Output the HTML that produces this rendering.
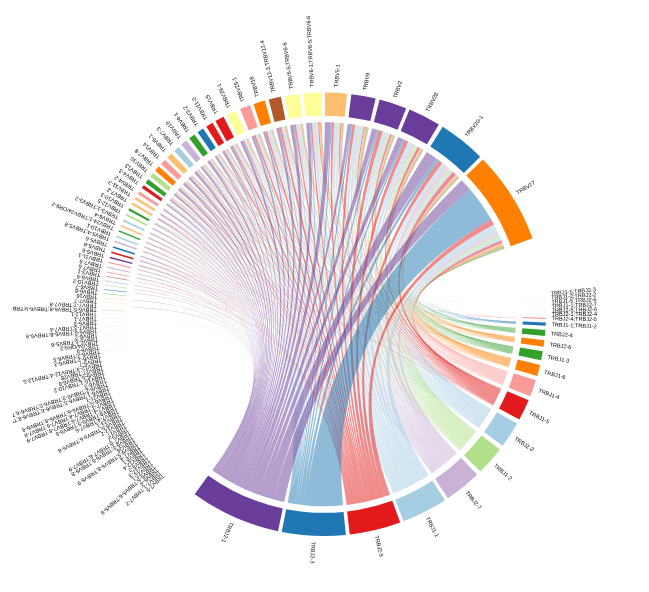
<!DOCTYPE html>
<html><head><meta charset="utf-8"><title>Chord diagram</title>
<style>html,body{margin:0;padding:0;background:#fff}svg{display:block}text{font-family:"Liberation Sans",sans-serif;font-size:5.55px;fill:#000}</style></head><body>
<svg width="649" height="592" viewBox="0 0 649 592">
<rect width="649" height="592" fill="#fff"/>
<defs><clipPath id="cp"><rect x="13" y="0" width="636" height="592"/></clipPath></defs>
<g id="grid">
<path d="M545.02 293.96L521.97 296.08" stroke="#A6CEE3" stroke-width="0.073" fill="none"/>
<path d="M545.35 298.01L522.27 299.7" stroke="#B2DF8A" stroke-width="0.073" fill="none"/>
<path d="M545.61 302.03L522.5 303.3" stroke="#FDBF6F" stroke-width="0.073" fill="none"/>
<path d="M545.8 306.09L522.67 306.94" stroke="#CAB2D6" stroke-width="0.073" fill="none"/>
<path d="M545.91 310.11L522.77 310.54" stroke="#FFFF99" stroke-width="0.073" fill="none"/>
<path d="M545.95 314.17L522.8 314.18" stroke="#A6CEE3" stroke-width="0.073" fill="none"/>
<path d="M545.92 318A221.75 221.75 0 0 1 545.91 318.39L522.77 317.96A198.6 198.6 0 0 0 522.77 317.61Z" fill="#E31A1C"/>
<path d="M545.8 322.45A221.75 221.75 0 0 1 545.66 325.66L522.54 324.47A198.6 198.6 0 0 0 522.66 321.6Z" fill="#1F78B4"/>
<path d="M545.4 329.91A221.75 221.75 0 0 1 544.89 335.89L521.85 333.63A198.6 198.6 0 0 0 522.3 328.28Z" fill="#33A02C"/>
<path d="M544.41 340.31A221.75 221.75 0 0 1 543.54 346.84L520.64 343.43A198.6 198.6 0 0 0 521.42 337.59Z" fill="#FF7F00"/>
<path d="M542.83 351.31A221.75 221.75 0 0 1 541.13 360.24L518.48 355.44A198.6 198.6 0 0 0 520.01 347.44Z" fill="#33A02C"/>
<path d="M540.09 364.89A221.75 221.75 0 0 1 537.2 375.93L514.96 369.49A198.6 198.6 0 0 0 517.55 359.6Z" fill="#FF7F00"/>
<path d="M535.92 380.19A221.75 221.75 0 0 1 530.24 396.24L508.73 387.68A198.6 198.6 0 0 0 513.82 373.31Z" fill="#FB9A99"/>
<path d="M528.62 400.18A221.75 221.75 0 0 1 519.35 419.55L498.98 408.56A198.6 198.6 0 0 0 507.28 391.21Z" fill="#E31A1C"/>
<path d="M517.11 423.61A221.75 221.75 0 0 1 502.69 445.84L484.05 432.1A198.6 198.6 0 0 0 496.97 412.2Z" fill="#A6CEE3"/>
<path d="M499.89 449.55A221.75 221.75 0 0 1 480.45 471.6L464.14 455.17A198.6 198.6 0 0 0 481.55 435.42Z" fill="#B2DF8A"/>
<path d="M477.26 474.7A221.75 221.75 0 0 1 448.01 498.22L435.08 479.01A198.6 198.6 0 0 0 461.28 457.95Z" fill="#CAB2D6"/>
<path d="M444.97 500.23A221.75 221.75 0 0 1 403.56 521.31L395.27 499.7A198.6 198.6 0 0 0 432.37 480.81Z" fill="#A6CEE3"/>
<path d="M400.19 522.57A221.75 221.75 0 0 1 349.76 534.52L347.1 511.53A198.6 198.6 0 0 0 392.26 500.83Z" fill="#E31A1C"/>
<path d="M345.84 534.94A221.75 221.75 0 0 1 281.7 531.89L286.14 509.17A198.6 198.6 0 0 0 343.58 511.9Z" fill="#1F78B4"/>
<path d="M277.98 531.13A221.75 221.75 0 0 1 194.64 494.22L208.17 475.43A198.6 198.6 0 0 0 282.81 508.49Z" fill="#6A3D9A"/>
<path d="M482.9 159.38A221.75 221.75 0 0 1 532.51 238.23L510.76 246.16A198.6 198.6 0 0 0 466.34 175.54Z" fill="#FF7F00"/>
<path d="M442.69 126.81A221.75 221.75 0 0 1 480.18 156.63L463.89 173.09A198.6 198.6 0 0 0 430.32 146.38Z" fill="#1F78B4"/>
<path d="M409.56 109.59A221.75 221.75 0 0 1 438.87 124.45L426.9 144.27A198.6 198.6 0 0 0 400.65 130.95Z" fill="#6A3D9A"/>
<path d="M379.61 99.53A221.75 221.75 0 0 1 406.19 108.21L397.63 129.72A198.6 198.6 0 0 0 373.82 121.95Z" fill="#6A3D9A"/>
<path d="M351.38 94.17A221.75 221.75 0 0 1 375.67 98.55L370.29 121.07A198.6 198.6 0 0 0 348.54 117.15Z" fill="#6A3D9A"/>
<path d="M324.97 92.5A221.75 221.75 0 0 1 347.11 93.69L344.72 116.71A198.6 198.6 0 0 0 324.89 115.65Z" fill="#FDBF6F"/>
<path d="M303.33 93.48A221.75 221.75 0 0 1 321.3 92.52L321.6 115.67A198.6 198.6 0 0 0 305.51 116.53Z" fill="#FFFF99"/>
<path d="M284.74 96.04A221.75 221.75 0 0 1 299.48 93.88L302.06 116.89A198.6 198.6 0 0 0 288.86 118.82Z" fill="#FFFF99"/>
<path d="M268.68 99.56A221.75 221.75 0 0 1 280.9 96.77L285.42 119.47A198.6 198.6 0 0 0 274.47 121.98Z" fill="#B15928"/>
<path d="M253.47 104.08A221.75 221.75 0 0 1 264.83 100.6L271.03 122.9A198.6 198.6 0 0 0 260.85 126.02Z" fill="#FF7F00"/>
<path d="M240.06 109.08A221.75 221.75 0 0 1 249.92 105.31L257.68 127.12A198.6 198.6 0 0 0 248.84 130.5Z" fill="#FB9A99"/>
<path d="M226.99 114.94A221.75 221.75 0 0 1 236.13 110.74L245.33 131.98A198.6 198.6 0 0 0 237.14 135.75Z" fill="#FFFF99"/>
<path d="M215.34 121.06A221.75 221.75 0 0 1 223.53 116.67L234.04 137.3A198.6 198.6 0 0 0 226.71 141.23Z" fill="#E31A1C"/>
<path d="M206.2 126.5A221.75 221.75 0 0 1 212.49 122.69L224.15 142.69A198.6 198.6 0 0 0 218.52 146.1Z" fill="#E31A1C"/>
<path d="M197.61 132.18A221.75 221.75 0 0 1 203.17 128.44L215.8 147.84A198.6 198.6 0 0 0 210.83 151.19Z" fill="#1F78B4"/>
<path d="M189.21 138.32A221.75 221.75 0 0 1 194.39 134.46L207.94 153.23A198.6 198.6 0 0 0 203.3 156.69Z" fill="#33A02C"/>
<path d="M181.31 144.68A221.75 221.75 0 0 1 186.28 140.61L200.68 158.74A198.6 198.6 0 0 0 196.22 162.38Z" fill="#CAB2D6"/>
<path d="M174.1 151.02A221.75 221.75 0 0 1 178.69 146.92L193.88 164.39A198.6 198.6 0 0 0 189.77 168.06Z" fill="#A6CEE3"/>
<path d="M167.26 157.59A221.75 221.75 0 0 1 171.53 153.42L187.47 170.21A198.6 198.6 0 0 0 183.65 173.94Z" fill="#FDBF6F"/>
<path d="M161 164.12A221.75 221.75 0 0 1 164.98 159.9L181.6 176.02A198.6 198.6 0 0 0 178.03 179.8Z" fill="#FB9A99"/>
<path d="M155.13 170.77A221.75 221.75 0 0 1 158.74 166.62L176.01 182.03A198.6 198.6 0 0 0 172.78 185.74Z" fill="#FF7F00"/>
<path d="M150.34 176.6A221.75 221.75 0 0 1 153.17 173.11L171.02 187.84A198.6 198.6 0 0 0 168.49 190.97Z" fill="#B2DF8A"/>
<path d="M145.55 182.88A221.75 221.75 0 0 1 148.23 179.32L166.6 193.4A198.6 198.6 0 0 0 164.2 196.59Z" fill="#33A02C"/>
<path d="M141.85 188.08A221.75 221.75 0 0 1 143.76 185.35L162.6 198.81A198.6 198.6 0 0 0 160.88 201.25Z" fill="#E31A1C"/>
<path d="M137.94 193.91A221.75 221.75 0 0 1 139.53 191.49L158.81 204.3A198.6 198.6 0 0 0 157.39 206.48Z" fill="#FB9A99"/>
<path d="M134.63 199.2A221.75 221.75 0 0 1 135.91 197.12L155.57 209.35A198.6 198.6 0 0 0 154.42 211.21Z" fill="#FDBF6F"/>
<path d="M131.46 204.6A221.75 221.75 0 0 1 132.6 202.62L152.6 214.28A198.6 198.6 0 0 0 151.58 216.05Z" fill="#FDBF6F"/>
<path d="M128.32 210.3A221.75 221.75 0 0 1 129.37 208.36L149.71 219.41A198.6 198.6 0 0 0 148.77 221.15Z" fill="#33A02C"/>
<path d="M125.63 215.55A221.75 221.75 0 0 1 126.5 213.82L147.14 224.3A198.6 198.6 0 0 0 146.36 225.85Z" fill="#B2DF8A"/>
<path d="M122.93 221.17A221.75 221.75 0 0 1 123.69 219.55L144.62 229.44A198.6 198.6 0 0 0 143.94 230.88Z" fill="#A6CEE3"/>
<path d="M120.6 226.4A221.75 221.75 0 0 1 121.25 224.91L142.43 234.23A198.6 198.6 0 0 0 141.85 235.57Z" fill="#FDBF6F"/>
<path d="M118.42 231.61A221.75 221.75 0 0 1 119.01 230.18L140.43 238.95A198.6 198.6 0 0 0 139.91 240.24Z" fill="#33A02C"/>
<path d="M116.28 237.17A221.75 221.75 0 0 1 116.82 235.72L138.47 243.92A198.6 198.6 0 0 0 137.98 245.22Z" fill="#A6CEE3"/>
<path d="M114.51 242.13A221.75 221.75 0 0 1 114.99 240.74L136.83 248.41A198.6 198.6 0 0 0 136.4 249.66Z" fill="#CAB2D6"/>
<path d="M112.67 247.72A221.75 221.75 0 0 1 113.14 246.24L135.17 253.34A198.6 198.6 0 0 0 134.75 254.66Z" fill="#1F78B4"/>
<path d="M111.07 253.02A221.75 221.75 0 0 1 111.5 251.53L133.71 258.08A198.6 198.6 0 0 0 133.32 259.41Z" fill="#E31A1C"/>
<path d="M109.66 258.17A221.75 221.75 0 0 1 110.04 256.74L132.39 262.75A198.6 198.6 0 0 0 132.06 264.02Z" fill="#6A3D9A"/>
<path d="M108.46 262.97A221.75 221.75 0 0 1 108.73 261.84L131.23 267.31A198.6 198.6 0 0 0 130.98 268.33Z" fill="#FB9A99"/>
<path d="M107.36 267.86A221.75 221.75 0 0 1 107.58 266.84L130.19 271.79A198.6 198.6 0 0 0 129.99 272.7Z" fill="#CAB2D6"/>
<path d="M106.46 272.28A221.75 221.75 0 0 1 106.61 271.52L129.32 275.98A198.6 198.6 0 0 0 129.19 276.66Z" fill="#FB9A99"/>
<path d="M105.68 276.53A221.75 221.75 0 0 1 105.78 275.95L128.58 279.95A198.6 198.6 0 0 0 128.5 280.46Z" fill="#B15928"/>
<path d="M104.91 281.28A221.75 221.75 0 0 1 105.02 280.59L127.9 284.11A198.6 198.6 0 0 0 127.81 284.72Z" fill="#A6CEE3"/>
<path d="M104.33 285.46A221.75 221.75 0 0 1 104.39 285L127.34 288.05A198.6 198.6 0 0 0 127.28 288.46Z" fill="#B2DF8A"/>
<path d="M103.82 289.66A221.75 221.75 0 0 1 103.86 289.27L126.86 291.87A198.6 198.6 0 0 0 126.83 292.23Z" fill="#1F78B4"/>
<path d="M103.39 293.84A221.75 221.75 0 0 1 103.42 293.51L126.47 295.68A198.6 198.6 0 0 0 126.44 295.97Z" fill="#33A02C"/>
<path d="M103.05 298.01A221.75 221.75 0 0 1 103.07 297.74L126.15 299.46A198.6 198.6 0 0 0 126.13 299.7Z" fill="#FDBF6F"/>
<path d="M102.79 302.05L125.9 303.33" stroke="#FDBF6F" stroke-width="0.212" fill="none"/>
<path d="M102.6 306.22L125.73 307.06" stroke="#FFFF99" stroke-width="0.177" fill="none"/>
<path d="M102.48 310.37L125.63 310.77" stroke="#B15928" stroke-width="0.147" fill="none"/>
<path d="M102.45 314.51L125.6 314.48" stroke="#CAB2D6" stroke-width="0.123" fill="none"/>
<path d="M102.49 318.63L125.64 318.17" stroke="#FF7F00" stroke-width="0.104" fill="none"/>
<path d="M102.61 322.74L125.75 321.86" stroke="#B2DF8A" stroke-width="0.087" fill="none"/>
<path d="M102.81 326.84L125.92 325.53" stroke="#1F78B4" stroke-width="0.074" fill="none"/>
<path d="M103.08 330.93L126.16 329.19" stroke="#FFFF99" stroke-width="0.063" fill="none"/>
<path d="M103.42 335L126.47 332.83" stroke="#E31A1C" stroke-width="0.055" fill="none"/>
<path d="M103.84 339.05L126.85 336.46" stroke="#A6CEE3" stroke-width="0.047" fill="none"/>
<path d="M104.33 343.1L127.29 340.08" stroke="#FF7F00" stroke-width="0.041" fill="none"/>
<path d="M104.9 347.12L127.79 343.69" stroke="#B2DF8A" stroke-width="0.037" fill="none"/>
<path d="M105.54 351.13L128.37 347.28" stroke="#6A3D9A" stroke-width="0.033" fill="none"/>
<path d="M106.25 355.13L129 350.86" stroke="#FDBF6F" stroke-width="0.029" fill="none"/>
</g>
<g id="links" fill-opacity="0.5">
<g fill="none" stroke="#B2DF8A" stroke-opacity="0.5"><path d="M395.18 135.85Q324.2 314.25 515.68 300.19" stroke-width="0.047"/></g>
<g fill="none" stroke="#FDBF6F" stroke-opacity="0.5"><path d="M459.24 177.77Q324.2 314.25 515.91 303.67" stroke-width="0.047"/></g>
<g fill="none" stroke="#CAB2D6" stroke-opacity="0.5"><path d="M344.02 123.28Q324.2 314.25 516.07 307.18" stroke-width="0.047"/></g>
<g fill="none" stroke="#FFFF99" stroke-opacity="0.5"><path d="M423.48 149.91Q324.2 314.25 516.17 310.66" stroke-width="0.047"/></g>
<g fill="none" stroke="#A6CEE3" stroke-opacity="0.5"><path d="M286.7 125.95Q324.2 314.25 516.2 314.18" stroke-width="0.047"/></g>
<path d="M423.39 149.86A192 192 0 0 1 423.47 149.9Q324.2 314.25 516.17 317.74A192 192 0 0 1 516.17 317.84Q324.2 314.25 423.39 149.86ZM459.16 177.69A192 192 0 0 1 459.23 177.76Q324.2 314.25 516.17 317.63A192 192 0 0 1 516.17 317.74Q324.2 314.25 459.16 177.69Z" fill="#E31A1C"/>
<path d="M176.08 192.08A192 192 0 0 1 176.11 192.05Q324.2 314.25 515.97 323.72A192 192 0 0 1 515.96 323.77Q324.2 314.25 176.08 192.08ZM180.89 186.48A192 192 0 0 1 180.93 186.43Q324.2 314.25 515.97 323.65A192 192 0 0 1 515.97 323.72Q324.2 314.25 180.89 186.48ZM186.3 180.66A192 192 0 0 1 186.34 180.61Q324.2 314.25 515.97 323.58A192 192 0 0 1 515.97 323.65Q324.2 314.25 186.3 180.66ZM191.97 175.04A192 192 0 0 1 192.01 175Q324.2 314.25 515.98 323.51A192 192 0 0 1 515.97 323.58Q324.2 314.25 191.97 175.04ZM198.18 169.4A192 192 0 0 1 198.21 169.37Q324.2 314.25 515.98 323.46A192 192 0 0 1 515.98 323.51Q324.2 314.25 198.18 169.4ZM204.75 163.93A192 192 0 0 1 204.78 163.91Q324.2 314.25 515.98 323.41A192 192 0 0 1 515.98 323.46Q324.2 314.25 204.75 163.93ZM211.75 158.63A192 192 0 0 1 211.81 158.58Q324.2 314.25 515.99 323.33A192 192 0 0 1 515.98 323.41Q324.2 314.25 211.75 158.63ZM219.33 153.42A192 192 0 0 1 219.4 153.37Q324.2 314.25 515.99 323.23A192 192 0 0 1 515.99 323.33Q324.2 314.25 219.33 153.42ZM227.4 148.44A192 192 0 0 1 227.48 148.39Q324.2 314.25 515.99 323.14A192 192 0 0 1 515.99 323.23Q324.2 314.25 227.4 148.44ZM236.95 143.22A192 192 0 0 1 237.03 143.18Q324.2 314.25 516 323.03A192 192 0 0 1 515.99 323.14Q324.2 314.25 236.95 143.22ZM247.87 138.08A192 192 0 0 1 247.95 138.04Q324.2 314.25 516 322.93A192 192 0 0 1 516 323.03Q324.2 314.25 247.87 138.08ZM259.8 133.37A192 192 0 0 1 259.89 133.34Q324.2 314.25 516.01 322.83A192 192 0 0 1 516 322.93Q324.2 314.25 259.8 133.37ZM272.66 129.3A192 192 0 0 1 272.79 129.26Q324.2 314.25 516.02 322.67A192 192 0 0 1 516.01 322.83Q324.2 314.25 272.66 129.3ZM286.51 125.98A192 192 0 0 1 286.68 125.95Q324.2 314.25 516.02 322.49A192 192 0 0 1 516.02 322.67Q324.2 314.25 286.51 125.98ZM302.73 123.45A192 192 0 0 1 302.8 123.45Q324.2 314.25 516.03 322.41A192 192 0 0 1 516.02 322.49Q324.2 314.25 302.73 123.45ZM321.59 122.27A192 192 0 0 1 321.69 122.27Q324.2 314.25 516.03 322.3A192 192 0 0 1 516.03 322.41Q324.2 314.25 321.59 122.27ZM343.91 123.26A192 192 0 0 1 344.01 123.27Q324.2 314.25 516.04 322.19A192 192 0 0 1 516.03 322.3Q324.2 314.25 343.91 123.26ZM368.6 127.45A192 192 0 0 1 368.76 127.49Q324.2 314.25 516.04 322.01A192 192 0 0 1 516.04 322.19Q324.2 314.25 368.6 127.45ZM395.01 135.78A192 192 0 0 1 395.17 135.85Q324.2 314.25 516.05 321.83A192 192 0 0 1 516.04 322.01Q324.2 314.25 395.01 135.78ZM423.35 149.83A192 192 0 0 1 423.39 149.86Q324.2 314.25 516.05 321.77A192 192 0 0 1 516.05 321.83Q324.2 314.25 423.35 149.83ZM459.09 177.62A192 192 0 0 1 459.16 177.69Q324.2 314.25 516.06 321.66A192 192 0 0 1 516.05 321.77Q324.2 314.25 459.09 177.62Z" fill="#1F78B4"/>
<g fill="none" stroke="#1F78B4" stroke-opacity="0.5"><path d="M145.03 383.26Q324.2 314.25 515.95 324.13" stroke-width="0.008"/><path d="M135.8 277.26Q324.2 314.25 515.95 324.08" stroke-width="0.007"/><path d="M136.64 273.2Q324.2 314.25 515.95 324.07" stroke-width="0.009"/><path d="M137.64 268.88Q324.2 314.25 515.95 324.06" stroke-width="0.015"/><path d="M138.77 264.46Q324.2 314.25 515.95 324.05" stroke-width="0.009"/><path d="M140.04 259.95Q324.2 314.25 515.95 324.04" stroke-width="0.015"/><path d="M141.45 255.37Q324.2 314.25 515.95 324.02" stroke-width="0.012"/><path d="M143.05 250.61Q324.2 314.25 515.95 324.01" stroke-width="0.013"/><path d="M144.64 246.26Q324.2 314.25 515.95 324" stroke-width="0.009"/><path d="M146.53 241.46Q324.2 314.25 515.95 323.99" stroke-width="0.018"/><path d="M148.47 236.9Q324.2 314.25 515.95 323.97" stroke-width="0.013"/><path d="M150.58 232.26Q324.2 314.25 515.95 323.95" stroke-width="0.015"/><path d="M153.02 227.3Q324.2 314.25 515.96 323.94" stroke-width="0.013"/><path d="M155.5 222.57Q324.2 314.25 515.96 323.93" stroke-width="0.013"/><path d="M158.3 217.61Q324.2 314.25 515.96 323.91" stroke-width="0.022"/><path d="M161.16 212.84Q324.2 314.25 515.96 323.89" stroke-width="0.023"/><path d="M164.3 207.97Q324.2 314.25 515.96 323.86" stroke-width="0.028"/><path d="M167.96 202.66Q324.2 314.25 515.96 323.82" stroke-width="0.038"/><path d="M171.83 197.43Q324.2 314.25 515.96 323.79" stroke-width="0.029"/></g>
<path d="M180.85 186.52A192 192 0 0 1 180.89 186.48Q324.2 314.25 515.34 332.43A192 192 0 0 1 515.33 332.5Q324.2 314.25 180.85 186.52ZM186.24 180.72A192 192 0 0 1 186.3 180.66Q324.2 314.25 515.35 332.35A192 192 0 0 1 515.34 332.43Q324.2 314.25 186.24 180.72ZM191.93 175.08A192 192 0 0 1 191.97 175.04Q324.2 314.25 515.35 332.29A192 192 0 0 1 515.35 332.35Q324.2 314.25 191.93 175.08ZM198.12 169.45A192 192 0 0 1 198.18 169.4Q324.2 314.25 515.36 332.21A192 192 0 0 1 515.35 332.29Q324.2 314.25 198.12 169.45ZM204.71 163.96A192 192 0 0 1 204.75 163.93Q324.2 314.25 515.36 332.16A192 192 0 0 1 515.36 332.21Q324.2 314.25 204.71 163.96ZM211.65 158.7A192 192 0 0 1 211.75 158.63Q324.2 314.25 515.37 332.04A192 192 0 0 1 515.36 332.16Q324.2 314.25 211.65 158.7ZM219.26 153.46A192 192 0 0 1 219.33 153.42Q324.2 314.25 515.38 331.95A192 192 0 0 1 515.37 332.04Q324.2 314.25 219.26 153.46ZM227.35 148.47A192 192 0 0 1 227.4 148.44Q324.2 314.25 515.39 331.89A192 192 0 0 1 515.38 331.95Q324.2 314.25 227.35 148.47ZM236.85 143.27A192 192 0 0 1 236.95 143.22Q324.2 314.25 515.4 331.77A192 192 0 0 1 515.39 331.89Q324.2 314.25 236.85 143.27ZM247.79 138.11A192 192 0 0 1 247.87 138.08Q324.2 314.25 515.41 331.68A192 192 0 0 1 515.4 331.77Q324.2 314.25 247.79 138.11ZM259.67 133.42A192 192 0 0 1 259.8 133.37Q324.2 314.25 515.42 331.53A192 192 0 0 1 515.41 331.68Q324.2 314.25 259.67 133.42ZM272.53 129.33A192 192 0 0 1 272.66 129.3Q324.2 314.25 515.43 331.4A192 192 0 0 1 515.42 331.53Q324.2 314.25 272.53 129.33ZM286.35 126.02A192 192 0 0 1 286.51 125.98Q324.2 314.25 515.45 331.22A192 192 0 0 1 515.43 331.4Q324.2 314.25 286.35 126.02ZM302.6 123.47A192 192 0 0 1 302.73 123.45Q324.2 314.25 515.46 331.08A192 192 0 0 1 515.45 331.22Q324.2 314.25 302.6 123.47ZM321.42 122.27A192 192 0 0 1 321.59 122.27Q324.2 314.25 515.48 330.9A192 192 0 0 1 515.46 331.08Q324.2 314.25 321.42 122.27ZM343.68 123.24A192 192 0 0 1 343.91 123.26Q324.2 314.25 515.5 330.66A192 192 0 0 1 515.48 330.9Q324.2 314.25 343.68 123.24ZM368.27 127.38A192 192 0 0 1 368.6 127.45Q324.2 314.25 515.53 330.3A192 192 0 0 1 515.5 330.66Q324.2 314.25 368.27 127.38ZM394.7 135.66A192 192 0 0 1 395.01 135.78Q324.2 314.25 515.56 329.95A192 192 0 0 1 515.53 330.3Q324.2 314.25 394.7 135.66ZM422.92 149.57A192 192 0 0 1 423.35 149.83Q324.2 314.25 515.6 329.41A192 192 0 0 1 515.56 329.95Q324.2 314.25 422.92 149.57ZM458.73 177.26A192 192 0 0 1 459.09 177.62Q324.2 314.25 515.64 328.88A192 192 0 0 1 515.6 329.41Q324.2 314.25 458.73 177.26Z" fill="#33A02C"/>
<g fill="none" stroke="#33A02C" stroke-opacity="0.5"><path d="M134.42 285.12Q324.2 314.25 515.29 332.95" stroke-width="0.009"/><path d="M135.8 277.26Q324.2 314.25 515.29 332.94" stroke-width="0.009"/><path d="M136.64 273.21Q324.2 314.25 515.29 332.93" stroke-width="0.011"/><path d="M137.63 268.9Q324.2 314.25 515.29 332.91" stroke-width="0.018"/><path d="M138.76 264.48Q324.2 314.25 515.29 332.89" stroke-width="0.015"/><path d="M140.03 259.97Q324.2 314.25 515.29 332.88" stroke-width="0.016"/><path d="M141.45 255.38Q324.2 314.25 515.3 332.86" stroke-width="0.018"/><path d="M143.05 250.62Q324.2 314.25 515.3 332.84" stroke-width="0.013"/><path d="M144.64 246.27Q324.2 314.25 515.3 332.83" stroke-width="0.013"/><path d="M146.52 241.48Q324.2 314.25 515.3 332.81" stroke-width="0.021"/><path d="M148.47 236.91Q324.2 314.25 515.3 332.8" stroke-width="0.012"/><path d="M150.58 232.28Q324.2 314.25 515.3 332.78" stroke-width="0.021"/><path d="M153.01 227.32Q324.2 314.25 515.31 332.75" stroke-width="0.03"/><path d="M155.49 222.59Q324.2 314.25 515.31 332.72" stroke-width="0.03"/><path d="M158.28 217.63Q324.2 314.25 515.31 332.7" stroke-width="0.024"/><path d="M161.15 212.87Q324.2 314.25 515.31 332.67" stroke-width="0.034"/><path d="M164.28 207.99Q324.2 314.25 515.32 332.63" stroke-width="0.033"/><path d="M167.94 202.69Q324.2 314.25 515.32 332.6" stroke-width="0.037"/><path d="M171.81 197.46Q324.2 314.25 515.33 332.56" stroke-width="0.039"/><path d="M176.07 192.1Q324.2 314.25 515.33 332.52" stroke-width="0.038"/></g>
<path d="M171.76 197.51A192 192 0 0 1 171.8 197.47Q324.2 314.25 514.18 342.05A192 192 0 0 1 514.17 342.1Q324.2 314.25 171.76 197.51ZM176.02 192.15A192 192 0 0 1 176.06 192.11Q324.2 314.25 514.19 341.99A192 192 0 0 1 514.18 342.05Q324.2 314.25 176.02 192.15ZM180.8 186.58A192 192 0 0 1 180.85 186.52Q324.2 314.25 514.2 341.91A192 192 0 0 1 514.19 341.99Q324.2 314.25 180.8 186.58ZM186.21 180.75A192 192 0 0 1 186.24 180.72Q324.2 314.25 514.2 341.87A192 192 0 0 1 514.2 341.91Q324.2 314.25 186.21 180.75ZM191.88 175.13A192 192 0 0 1 191.93 175.08Q324.2 314.25 514.21 341.8A192 192 0 0 1 514.2 341.87Q324.2 314.25 191.88 175.13ZM198.07 169.49A192 192 0 0 1 198.12 169.45Q324.2 314.25 514.22 341.73A192 192 0 0 1 514.21 341.8Q324.2 314.25 198.07 169.49ZM204.68 163.99A192 192 0 0 1 204.71 163.96Q324.2 314.25 514.23 341.69A192 192 0 0 1 514.22 341.73Q324.2 314.25 204.68 163.99ZM211.59 158.74A192 192 0 0 1 211.65 158.7Q324.2 314.25 514.24 341.61A192 192 0 0 1 514.23 341.69Q324.2 314.25 211.59 158.74ZM219.21 153.5A192 192 0 0 1 219.26 153.46Q324.2 314.25 514.25 341.54A192 192 0 0 1 514.24 341.61Q324.2 314.25 219.21 153.5ZM227.3 148.5A192 192 0 0 1 227.35 148.47Q324.2 314.25 514.26 341.48A192 192 0 0 1 514.25 341.54Q324.2 314.25 227.3 148.5ZM236.73 143.33A192 192 0 0 1 236.85 143.27Q324.2 314.25 514.28 341.35A192 192 0 0 1 514.26 341.48Q324.2 314.25 236.73 143.33ZM247.69 138.15A192 192 0 0 1 247.79 138.11Q324.2 314.25 514.3 341.23A192 192 0 0 1 514.28 341.35Q324.2 314.25 247.69 138.15ZM259.54 133.46A192 192 0 0 1 259.67 133.42Q324.2 314.25 514.31 341.09A192 192 0 0 1 514.3 341.23Q324.2 314.25 259.54 133.46ZM272.45 129.36A192 192 0 0 1 272.53 129.33Q324.2 314.25 514.33 341A192 192 0 0 1 514.31 341.09Q324.2 314.25 272.45 129.36ZM286.25 126.04A192 192 0 0 1 286.35 126.02Q324.2 314.25 514.34 340.9A192 192 0 0 1 514.33 341Q324.2 314.25 286.25 126.04ZM302.43 123.49A192 192 0 0 1 302.6 123.47Q324.2 314.25 514.37 340.72A192 192 0 0 1 514.34 340.9Q324.2 314.25 302.43 123.49ZM321.18 122.27A192 192 0 0 1 321.42 122.27Q324.2 314.25 514.4 340.48A192 192 0 0 1 514.37 340.72Q324.2 314.25 321.18 122.27ZM343.34 123.21A192 192 0 0 1 343.68 123.24Q324.2 314.25 514.45 340.13A192 192 0 0 1 514.4 340.48Q324.2 314.25 343.34 123.21ZM367.78 127.26A192 192 0 0 1 368.27 127.38Q324.2 314.25 514.52 339.61A192 192 0 0 1 514.45 340.13Q324.2 314.25 367.78 127.26ZM394.23 135.48A192 192 0 0 1 394.7 135.66Q324.2 314.25 514.59 339.09A192 192 0 0 1 514.52 339.61Q324.2 314.25 394.23 135.48ZM422.49 149.32A192 192 0 0 1 422.92 149.57Q324.2 314.25 514.65 338.56A192 192 0 0 1 514.59 339.09Q324.2 314.25 422.49 149.32ZM458.25 176.8A192 192 0 0 1 458.73 177.26Q324.2 314.25 514.74 337.87A192 192 0 0 1 514.65 338.56Q324.2 314.25 458.25 176.8Z" fill="#FF7F00"/>
<g fill="none" stroke="#FF7F00" stroke-opacity="0.5"><path d="M174.49 434.46Q324.2 314.25 514.12 342.46" stroke-width="0.007"/><path d="M136.17 353.08Q324.2 314.25 514.12 342.45" stroke-width="0.012"/><path d="M135.79 277.27Q324.2 314.25 514.12 342.41" stroke-width="0.009"/><path d="M137.63 268.91Q324.2 314.25 514.13 342.39" stroke-width="0.014"/><path d="M138.76 264.49Q324.2 314.25 514.13 342.37" stroke-width="0.013"/><path d="M140.03 259.98Q324.2 314.25 514.13 342.36" stroke-width="0.013"/><path d="M141.44 255.4Q324.2 314.25 514.13 342.35" stroke-width="0.016"/><path d="M143.05 250.63Q324.2 314.25 514.14 342.33" stroke-width="0.015"/><path d="M144.63 246.28Q324.2 314.25 514.14 342.32" stroke-width="0.01"/><path d="M146.52 241.5Q324.2 314.25 514.14 342.3" stroke-width="0.021"/><path d="M148.46 236.92Q324.2 314.25 514.14 342.28" stroke-width="0.012"/><path d="M150.57 232.29Q324.2 314.25 514.14 342.27" stroke-width="0.01"/><path d="M153 227.34Q324.2 314.25 514.15 342.26" stroke-width="0.024"/><path d="M155.48 222.61Q324.2 314.25 514.15 342.23" stroke-width="0.027"/><path d="M158.27 217.65Q324.2 314.25 514.15 342.2" stroke-width="0.029"/><path d="M161.14 212.89Q324.2 314.25 514.16 342.18" stroke-width="0.024"/><path d="M164.27 208.02Q324.2 314.25 514.16 342.15" stroke-width="0.025"/><path d="M167.92 202.72Q324.2 314.25 514.17 342.12" stroke-width="0.034"/></g>
<path d="M141.43 255.45A192 192 0 0 1 141.44 255.41Q324.2 314.25 512.08 353.79A192 192 0 0 1 512.08 353.83Q324.2 314.25 141.43 255.45ZM148.44 236.96A192 192 0 0 1 148.46 236.92Q324.2 314.25 512.11 353.66A192 192 0 0 1 512.1 353.7Q324.2 314.25 148.44 236.96ZM150.55 232.34A192 192 0 0 1 150.57 232.3Q324.2 314.25 512.12 353.62A192 192 0 0 1 512.11 353.66Q324.2 314.25 150.55 232.34ZM155.45 222.66A192 192 0 0 1 155.47 222.62Q324.2 314.25 512.14 353.54A192 192 0 0 1 512.13 353.59Q324.2 314.25 155.45 222.66ZM158.23 217.71A192 192 0 0 1 158.27 217.66Q324.2 314.25 512.15 353.48A192 192 0 0 1 512.14 353.54Q324.2 314.25 158.23 217.71ZM161.11 212.93A192 192 0 0 1 161.13 212.9Q324.2 314.25 512.16 353.44A192 192 0 0 1 512.15 353.48Q324.2 314.25 161.11 212.93ZM164.21 208.1A192 192 0 0 1 164.26 208.03Q324.2 314.25 512.18 353.35A192 192 0 0 1 512.16 353.44Q324.2 314.25 164.21 208.1ZM167.85 202.81A192 192 0 0 1 167.91 202.73Q324.2 314.25 512.2 353.26A192 192 0 0 1 512.18 353.35Q324.2 314.25 167.85 202.81ZM171.68 197.62A192 192 0 0 1 171.76 197.51Q324.2 314.25 512.22 353.12A192 192 0 0 1 512.2 353.26Q324.2 314.25 171.68 197.62ZM175.94 192.25A192 192 0 0 1 176.02 192.15Q324.2 314.25 512.25 353A192 192 0 0 1 512.22 353.12Q324.2 314.25 175.94 192.25ZM180.7 186.69A192 192 0 0 1 180.8 186.58Q324.2 314.25 512.28 352.85A192 192 0 0 1 512.25 353Q324.2 314.25 180.7 186.69ZM186.14 180.82A192 192 0 0 1 186.21 180.75Q324.2 314.25 512.3 352.74A192 192 0 0 1 512.28 352.85Q324.2 314.25 186.14 180.82ZM191.72 175.28A192 192 0 0 1 191.88 175.13Q324.2 314.25 512.35 352.53A192 192 0 0 1 512.3 352.74Q324.2 314.25 191.72 175.28ZM197.97 169.58A192 192 0 0 1 198.07 169.49Q324.2 314.25 512.37 352.39A192 192 0 0 1 512.35 352.53Q324.2 314.25 197.97 169.58ZM204.55 164.09A192 192 0 0 1 204.68 163.99Q324.2 314.25 512.41 352.23A192 192 0 0 1 512.37 352.39Q324.2 314.25 204.55 164.09ZM211.47 158.83A192 192 0 0 1 211.59 158.74Q324.2 314.25 512.44 352.08A192 192 0 0 1 512.41 352.23Q324.2 314.25 211.47 158.83ZM219.09 153.58A192 192 0 0 1 219.21 153.5Q324.2 314.25 512.47 351.94A192 192 0 0 1 512.44 352.08Q324.2 314.25 219.09 153.58ZM227.18 148.57A192 192 0 0 1 227.3 148.5Q324.2 314.25 512.49 351.8A192 192 0 0 1 512.47 351.94Q324.2 314.25 227.18 148.57ZM236.48 143.46A192 192 0 0 1 236.73 143.33Q324.2 314.25 512.55 351.51A192 192 0 0 1 512.49 351.8Q324.2 314.25 236.48 143.46ZM247.49 138.24A192 192 0 0 1 247.69 138.15Q324.2 314.25 512.59 351.3A192 192 0 0 1 512.55 351.51Q324.2 314.25 247.49 138.24ZM259.31 133.55A192 192 0 0 1 259.54 133.46Q324.2 314.25 512.64 351.05A192 192 0 0 1 512.59 351.3Q324.2 314.25 259.31 133.55ZM272.25 129.41A192 192 0 0 1 272.45 129.36Q324.2 314.25 512.68 350.84A192 192 0 0 1 512.64 351.05Q324.2 314.25 272.25 129.41ZM286.02 126.08A192 192 0 0 1 286.25 126.04Q324.2 314.25 512.73 350.61A192 192 0 0 1 512.68 350.84Q324.2 314.25 286.02 126.08ZM302.2 123.51A192 192 0 0 1 302.43 123.49Q324.2 314.25 512.77 350.38A192 192 0 0 1 512.73 350.61Q324.2 314.25 302.2 123.51ZM320.85 122.28A192 192 0 0 1 321.18 122.27Q324.2 314.25 512.83 350.04A192 192 0 0 1 512.77 350.38Q324.2 314.25 320.85 122.28ZM343.01 123.17A192 192 0 0 1 343.34 123.21Q324.2 314.25 512.9 349.71A192 192 0 0 1 512.83 350.04Q324.2 314.25 343.01 123.17ZM367.13 127.11A192 192 0 0 1 367.78 127.26Q324.2 314.25 513.02 349.04A192 192 0 0 1 512.9 349.71Q324.2 314.25 367.13 127.11ZM393.7 135.27A192 192 0 0 1 394.23 135.48Q324.2 314.25 513.12 348.48A192 192 0 0 1 513.02 349.04Q324.2 314.25 393.7 135.27ZM421.91 148.97A192 192 0 0 1 422.49 149.32Q324.2 314.25 513.24 347.81A192 192 0 0 1 513.12 348.48Q324.2 314.25 421.91 148.97ZM457.77 176.33A192 192 0 0 1 458.25 176.8Q324.2 314.25 513.36 347.14A192 192 0 0 1 513.24 347.81Q324.2 314.25 457.77 176.33Z" fill="#33A02C"/>
<g fill="none" stroke="#33A02C" stroke-opacity="0.5"><path d="M170.22 428.95Q324.2 314.25 512.03 354.07" stroke-width="0.007"/><path d="M150.52 396.1Q324.2 314.25 512.03 354.06" stroke-width="0.007"/><path d="M134.87 346.17Q324.2 314.25 512.03 354.05" stroke-width="0.007"/><path d="M133.83 339.21Q324.2 314.25 512.03 354.04" stroke-width="0.01"/><path d="M132.73 299.96Q324.2 314.25 512.04 354.01" stroke-width="0.008"/><path d="M133.88 288.94Q324.2 314.25 512.04 353.99" stroke-width="0.007"/><path d="M134.42 285.13Q324.2 314.25 512.04 353.98" stroke-width="0.011"/><path d="M135.08 281.11Q324.2 314.25 512.05 353.97" stroke-width="0.011"/><path d="M135.79 277.28Q324.2 314.25 512.05 353.96" stroke-width="0.011"/><path d="M136.63 273.24Q324.2 314.25 512.05 353.94" stroke-width="0.027"/><path d="M137.62 268.94Q324.2 314.25 512.06 353.91" stroke-width="0.035"/><path d="M138.76 264.51Q324.2 314.25 512.07 353.88" stroke-width="0.027"/><path d="M140.02 260Q324.2 314.25 512.07 353.85" stroke-width="0.031"/><path d="M143.04 250.66Q324.2 314.25 512.09 353.77" stroke-width="0.039"/><path d="M144.63 246.3Q324.2 314.25 512.1 353.74" stroke-width="0.027"/><path d="M146.51 241.52Q324.2 314.25 512.1 353.71" stroke-width="0.024"/><path d="M152.98 227.36Q324.2 314.25 512.12 353.6" stroke-width="0.03"/></g>
<path d="M152.96 227.41A192 192 0 0 1 152.98 227.38Q324.2 314.25 508.73 367.28A192 192 0 0 1 508.72 367.32Q324.2 314.25 152.96 227.41ZM158.21 217.75A192 192 0 0 1 158.23 217.71Q324.2 314.25 508.75 367.2A192 192 0 0 1 508.74 367.24Q324.2 314.25 158.21 217.75ZM161.08 212.98A192 192 0 0 1 161.11 212.93Q324.2 314.25 508.77 367.14A192 192 0 0 1 508.75 367.2Q324.2 314.25 161.08 212.98ZM171.63 197.69A192 192 0 0 1 171.68 197.62Q324.2 314.25 508.82 366.98A192 192 0 0 1 508.79 367.06Q324.2 314.25 171.63 197.69ZM175.89 192.32A192 192 0 0 1 175.94 192.25Q324.2 314.25 508.84 366.89A192 192 0 0 1 508.82 366.98Q324.2 314.25 175.89 192.32ZM180.64 186.76A192 192 0 0 1 180.7 186.69Q324.2 314.25 508.87 366.8A192 192 0 0 1 508.84 366.89Q324.2 314.25 180.64 186.76ZM186.04 180.92A192 192 0 0 1 186.14 180.82Q324.2 314.25 508.91 366.66A192 192 0 0 1 508.87 366.8Q324.2 314.25 186.04 180.92ZM191.66 175.34A192 192 0 0 1 191.72 175.28Q324.2 314.25 508.93 366.58A192 192 0 0 1 508.91 366.66Q324.2 314.25 191.66 175.34ZM197.89 169.65A192 192 0 0 1 197.97 169.58Q324.2 314.25 508.96 366.47A192 192 0 0 1 508.93 366.58Q324.2 314.25 197.89 169.65ZM204.48 164.15A192 192 0 0 1 204.55 164.09Q324.2 314.25 508.99 366.38A192 192 0 0 1 508.96 366.47Q324.2 314.25 204.48 164.15ZM211.36 158.91A192 192 0 0 1 211.47 158.83Q324.2 314.25 509.03 366.24A192 192 0 0 1 508.99 366.38Q324.2 314.25 211.36 158.91ZM218.92 153.69A192 192 0 0 1 219.09 153.58Q324.2 314.25 509.08 366.05A192 192 0 0 1 509.03 366.24Q324.2 314.25 218.92 153.69ZM227.04 148.65A192 192 0 0 1 227.18 148.57Q324.2 314.25 509.13 365.89A192 192 0 0 1 509.08 366.05Q324.2 314.25 227.04 148.65ZM236.31 143.55A192 192 0 0 1 236.48 143.46Q324.2 314.25 509.18 365.7A192 192 0 0 1 509.13 365.89Q324.2 314.25 236.31 143.55ZM247.36 138.3A192 192 0 0 1 247.49 138.24Q324.2 314.25 509.22 365.56A192 192 0 0 1 509.18 365.7Q324.2 314.25 247.36 138.3ZM259.08 133.63A192 192 0 0 1 259.31 133.55Q324.2 314.25 509.28 365.32A192 192 0 0 1 509.22 365.56Q324.2 314.25 259.08 133.63ZM272.04 129.47A192 192 0 0 1 272.25 129.41Q324.2 314.25 509.34 365.1A192 192 0 0 1 509.28 365.32Q324.2 314.25 272.04 129.47ZM285.74 126.14A192 192 0 0 1 286.02 126.08Q324.2 314.25 509.42 364.81A192 192 0 0 1 509.34 365.1Q324.2 314.25 285.74 126.14ZM301.93 123.55A192 192 0 0 1 302.2 123.51Q324.2 314.25 509.5 364.54A192 192 0 0 1 509.42 364.81Q324.2 314.25 301.93 123.55ZM319.68 122.3A192 192 0 0 1 320.85 122.28Q324.2 314.25 509.81 363.36A192 192 0 0 1 509.5 364.54Q324.2 314.25 319.68 122.3ZM342.51 123.13A192 192 0 0 1 343.01 123.17Q324.2 314.25 509.95 362.85A192 192 0 0 1 509.81 363.36Q324.2 314.25 342.51 123.13ZM366.31 126.93A192 192 0 0 1 367.13 127.11Q324.2 314.25 510.17 362A192 192 0 0 1 509.95 362.85Q324.2 314.25 366.31 126.93ZM392.92 134.97A192 192 0 0 1 393.7 135.27Q324.2 314.25 510.38 361.16A192 192 0 0 1 510.17 362Q324.2 314.25 392.92 134.97ZM421.19 148.55A192 192 0 0 1 421.91 148.97Q324.2 314.25 510.59 360.31A192 192 0 0 1 510.38 361.16Q324.2 314.25 421.19 148.55ZM457.05 175.63A192 192 0 0 1 457.77 176.33Q324.2 314.25 510.84 359.29A192 192 0 0 1 510.59 360.31Q324.2 314.25 457.05 175.63Z" fill="#FF7F00"/>
<g fill="none" stroke="#FF7F00" stroke-opacity="0.5"><path d="M146.32 386.51Q324.2 314.25 508.62 367.65" stroke-width="0.008"/><path d="M133.42 292.64Q324.2 314.25 508.64 367.61" stroke-width="0.008"/><path d="M133.87 288.95Q324.2 314.25 508.64 367.61" stroke-width="0.009"/><path d="M134.42 285.14Q324.2 314.25 508.64 367.6" stroke-width="0.009"/><path d="M135.08 281.12Q324.2 314.25 508.64 367.59" stroke-width="0.014"/><path d="M135.79 277.29Q324.2 314.25 508.65 367.57" stroke-width="0.013"/><path d="M136.63 273.26Q324.2 314.25 508.65 367.56" stroke-width="0.023"/><path d="M137.62 268.97Q324.2 314.25 508.66 367.53" stroke-width="0.026"/><path d="M138.75 264.53Q324.2 314.25 508.66 367.51" stroke-width="0.016"/><path d="M140.01 260.03Q324.2 314.25 508.67 367.48" stroke-width="0.038"/><path d="M141.42 255.46Q324.2 314.25 508.68 367.45" stroke-width="0.025"/><path d="M143.03 250.68Q324.2 314.25 508.69 367.43" stroke-width="0.018"/><path d="M144.62 246.33Q324.2 314.25 508.69 367.41" stroke-width="0.031"/><path d="M146.5 241.55Q324.2 314.25 508.7 367.38" stroke-width="0.03"/><path d="M148.44 236.97Q324.2 314.25 508.71 367.36" stroke-width="0.019"/><path d="M150.54 232.35Q324.2 314.25 508.72 367.33" stroke-width="0.029"/><path d="M155.44 222.68Q324.2 314.25 508.74 367.26" stroke-width="0.033"/><path d="M164.2 208.12Q324.2 314.25 508.78 367.12" stroke-width="0.041"/><path d="M167.84 202.83Q324.2 314.25 508.79 367.08" stroke-width="0.038"/></g>
<path d="M136.61 273.32A192 192 0 0 1 136.62 273.27Q324.2 314.25 502.67 385.05A192 192 0 0 1 502.66 385.09Q324.2 314.25 136.61 273.32ZM137.6 269.03A192 192 0 0 1 137.61 268.98Q324.2 314.25 502.69 385A192 192 0 0 1 502.67 385.05Q324.2 314.25 137.6 269.03ZM138.74 264.58A192 192 0 0 1 138.75 264.54Q324.2 314.25 502.71 384.95A192 192 0 0 1 502.69 385Q324.2 314.25 138.74 264.58ZM139.98 260.13A192 192 0 0 1 140.01 260.05Q324.2 314.25 502.74 384.87A192 192 0 0 1 502.71 384.95Q324.2 314.25 139.98 260.13ZM141.39 255.55A192 192 0 0 1 141.42 255.47Q324.2 314.25 502.77 384.8A192 192 0 0 1 502.74 384.87Q324.2 314.25 141.39 255.55ZM143.01 250.73A192 192 0 0 1 143.03 250.69Q324.2 314.25 502.78 384.76A192 192 0 0 1 502.77 384.8Q324.2 314.25 143.01 250.73ZM144.6 246.38A192 192 0 0 1 144.61 246.34Q324.2 314.25 502.8 384.72A192 192 0 0 1 502.78 384.76Q324.2 314.25 144.6 246.38ZM146.46 241.63A192 192 0 0 1 146.49 241.56Q324.2 314.25 502.83 384.65A192 192 0 0 1 502.8 384.72Q324.2 314.25 146.46 241.63ZM148.42 237.02A192 192 0 0 1 148.44 236.98Q324.2 314.25 502.84 384.61A192 192 0 0 1 502.83 384.65Q324.2 314.25 148.42 237.02ZM150.52 232.41A192 192 0 0 1 150.54 232.36Q324.2 314.25 502.86 384.56A192 192 0 0 1 502.84 384.61Q324.2 314.25 150.52 232.41ZM152.92 227.49A192 192 0 0 1 152.96 227.41Q324.2 314.25 502.89 384.48A192 192 0 0 1 502.86 384.56Q324.2 314.25 152.92 227.49ZM155.38 222.79A192 192 0 0 1 155.44 222.69Q324.2 314.25 502.93 384.38A192 192 0 0 1 502.89 384.48Q324.2 314.25 155.38 222.79ZM158.17 217.83A192 192 0 0 1 158.21 217.75Q324.2 314.25 502.97 384.3A192 192 0 0 1 502.93 384.38Q324.2 314.25 158.17 217.83ZM161.05 213.03A192 192 0 0 1 161.08 212.98Q324.2 314.25 502.99 384.24A192 192 0 0 1 502.97 384.3Q324.2 314.25 161.05 213.03ZM164.13 208.22A192 192 0 0 1 164.19 208.13Q324.2 314.25 503.03 384.14A192 192 0 0 1 502.99 384.24Q324.2 314.25 164.13 208.22ZM167.78 202.91A192 192 0 0 1 167.83 202.84Q324.2 314.25 503.06 384.06A192 192 0 0 1 503.03 384.14Q324.2 314.25 167.78 202.91ZM171.53 197.82A192 192 0 0 1 171.63 197.69Q324.2 314.25 503.12 383.91A192 192 0 0 1 503.06 384.06Q324.2 314.25 171.53 197.82ZM175.73 192.51A192 192 0 0 1 175.89 192.32Q324.2 314.25 503.21 383.68A192 192 0 0 1 503.12 383.91Q324.2 314.25 175.73 192.51ZM180.52 186.9A192 192 0 0 1 180.64 186.76Q324.2 314.25 503.27 383.51A192 192 0 0 1 503.21 383.68Q324.2 314.25 180.52 186.9ZM185.88 181.09A192 192 0 0 1 186.04 180.92Q324.2 314.25 503.35 383.3A192 192 0 0 1 503.27 383.51Q324.2 314.25 185.88 181.09ZM191.51 175.48A192 192 0 0 1 191.66 175.34Q324.2 314.25 503.43 383.11A192 192 0 0 1 503.35 383.3Q324.2 314.25 191.51 175.48ZM197.64 169.86A192 192 0 0 1 197.89 169.65Q324.2 314.25 503.54 382.81A192 192 0 0 1 503.43 383.11Q324.2 314.25 197.64 169.86ZM204.29 164.3A192 192 0 0 1 204.48 164.15Q324.2 314.25 503.63 382.59A192 192 0 0 1 503.54 382.81Q324.2 314.25 204.29 164.3ZM211.21 159.02A192 192 0 0 1 211.36 158.91Q324.2 314.25 503.69 382.42A192 192 0 0 1 503.63 382.59Q324.2 314.25 211.21 159.02ZM218.59 153.9A192 192 0 0 1 218.92 153.69Q324.2 314.25 503.83 382.06A192 192 0 0 1 503.69 382.42Q324.2 314.25 218.59 153.9ZM226.87 148.75A192 192 0 0 1 227.04 148.65Q324.2 314.25 503.9 381.87A192 192 0 0 1 503.83 382.06Q324.2 314.25 226.87 148.75ZM235.93 143.74A192 192 0 0 1 236.31 143.55Q324.2 314.25 504.05 381.47A192 192 0 0 1 503.9 381.87Q324.2 314.25 235.93 143.74ZM246.85 138.52A192 192 0 0 1 247.36 138.3Q324.2 314.25 504.24 380.96A192 192 0 0 1 504.05 381.47Q324.2 314.25 246.85 138.52ZM258.53 133.83A192 192 0 0 1 259.08 133.63Q324.2 314.25 504.44 380.41A192 192 0 0 1 504.24 380.96Q324.2 314.25 258.53 133.83ZM271.39 129.66A192 192 0 0 1 272.04 129.47Q324.2 314.25 504.67 379.78A192 192 0 0 1 504.44 380.41Q324.2 314.25 271.39 129.66ZM285.35 126.22A192 192 0 0 1 285.74 126.14Q324.2 314.25 504.8 379.41A192 192 0 0 1 504.67 379.78Q324.2 314.25 285.35 126.22ZM301.53 123.59A192 192 0 0 1 301.93 123.55Q324.2 314.25 504.94 379.04A192 192 0 0 1 504.8 379.41Q324.2 314.25 301.53 123.59ZM319.11 122.32A192 192 0 0 1 319.68 122.3Q324.2 314.25 505.13 378.51A192 192 0 0 1 504.94 379.04Q324.2 314.25 319.11 122.32ZM341.68 123.05A192 192 0 0 1 342.51 123.13Q324.2 314.25 505.4 377.73A192 192 0 0 1 505.13 378.51Q324.2 314.25 341.68 123.05ZM365.13 126.66A192 192 0 0 1 366.31 126.93Q324.2 314.25 505.79 376.6A192 192 0 0 1 505.4 377.73Q324.2 314.25 365.13 126.66ZM391.86 134.57A192 192 0 0 1 392.92 134.97Q324.2 314.25 506.16 375.54A192 192 0 0 1 505.79 376.6Q324.2 314.25 391.86 134.57ZM420.12 147.93A192 192 0 0 1 421.19 148.55Q324.2 314.25 506.54 374.38A192 192 0 0 1 506.16 375.54Q324.2 314.25 420.12 147.93ZM455.91 174.55A192 192 0 0 1 457.05 175.63Q324.2 314.25 507.02 372.9A192 192 0 0 1 506.54 374.38Q324.2 314.25 455.91 174.55Z" fill="#FB9A99"/>
<g fill="none" stroke="#FB9A99" stroke-opacity="0.5"><path d="M142.64 376.7Q324.2 314.25 502.59 385.24" stroke-width="0.008"/><path d="M141.53 373.38Q324.2 314.25 502.6 385.23" stroke-width="0.008"/><path d="M132.73 299.98Q324.2 314.25 502.62 385.19" stroke-width="0.009"/><path d="M133.04 296.32Q324.2 314.25 502.62 385.18" stroke-width="0.012"/><path d="M133.42 292.65Q324.2 314.25 502.62 385.17" stroke-width="0.011"/><path d="M133.87 288.96Q324.2 314.25 502.63 385.15" stroke-width="0.017"/><path d="M134.42 285.16Q324.2 314.25 502.64 385.13" stroke-width="0.029"/><path d="M135.08 281.14Q324.2 314.25 502.64 385.11" stroke-width="0.015"/><path d="M135.79 277.31Q324.2 314.25 502.65 385.1" stroke-width="0.02"/></g>
<path d="M136.61 273.36A192 192 0 0 1 136.61 273.32Q324.2 314.25 493.26 405.26A192 192 0 0 1 493.24 405.3Q324.2 314.25 136.61 273.36ZM139.96 260.2A192 192 0 0 1 139.98 260.13Q324.2 314.25 493.32 405.14A192 192 0 0 1 493.29 405.2Q324.2 314.25 139.96 260.2ZM141.38 255.6A192 192 0 0 1 141.39 255.55Q324.2 314.25 493.35 405.1A192 192 0 0 1 493.32 405.14Q324.2 314.25 141.38 255.6ZM144.58 246.42A192 192 0 0 1 144.6 246.38Q324.2 314.25 493.38 405.04A192 192 0 0 1 493.36 405.07Q324.2 314.25 144.58 246.42ZM150.49 232.46A192 192 0 0 1 150.52 232.41Q324.2 314.25 493.43 404.94A192 192 0 0 1 493.41 404.98Q324.2 314.25 150.49 232.46ZM152.9 227.53A192 192 0 0 1 152.92 227.49Q324.2 314.25 493.45 404.91A192 192 0 0 1 493.43 404.94Q324.2 314.25 152.9 227.53ZM155.34 222.87A192 192 0 0 1 155.38 222.79Q324.2 314.25 493.49 404.83A192 192 0 0 1 493.45 404.91Q324.2 314.25 155.34 222.87ZM158.12 217.91A192 192 0 0 1 158.17 217.83Q324.2 314.25 493.53 404.76A192 192 0 0 1 493.49 404.83Q324.2 314.25 158.12 217.91ZM161.01 213.09A192 192 0 0 1 161.05 213.03Q324.2 314.25 493.56 404.71A192 192 0 0 1 493.53 404.76Q324.2 314.25 161.01 213.09ZM164.09 208.29A192 192 0 0 1 164.13 208.22Q324.2 314.25 493.59 404.64A192 192 0 0 1 493.56 404.71Q324.2 314.25 164.09 208.29ZM167.71 203.01A192 192 0 0 1 167.78 202.91Q324.2 314.25 493.64 404.55A192 192 0 0 1 493.59 404.64Q324.2 314.25 167.71 203.01ZM171.4 197.99A192 192 0 0 1 171.53 197.82Q324.2 314.25 493.73 404.38A192 192 0 0 1 493.64 404.55Q324.2 314.25 171.4 197.99ZM175.59 192.68A192 192 0 0 1 175.73 192.51Q324.2 314.25 493.82 404.2A192 192 0 0 1 493.73 404.38Q324.2 314.25 175.59 192.68ZM180.43 186.99A192 192 0 0 1 180.52 186.9Q324.2 314.25 493.88 404.11A192 192 0 0 1 493.82 404.2Q324.2 314.25 180.43 186.99ZM185.72 181.26A192 192 0 0 1 185.88 181.09Q324.2 314.25 493.97 403.92A192 192 0 0 1 493.88 404.11Q324.2 314.25 185.72 181.26ZM191.29 175.69A192 192 0 0 1 191.51 175.48Q324.2 314.25 494.1 403.68A192 192 0 0 1 493.97 403.92Q324.2 314.25 191.29 175.69ZM197.39 170.09A192 192 0 0 1 197.64 169.86Q324.2 314.25 494.25 403.4A192 192 0 0 1 494.1 403.68Q324.2 314.25 197.39 170.09ZM204.13 164.43A192 192 0 0 1 204.29 164.3Q324.2 314.25 494.33 403.24A192 192 0 0 1 494.25 403.4Q324.2 314.25 204.13 164.43ZM211.04 159.14A192 192 0 0 1 211.21 159.02Q324.2 314.25 494.42 403.07A192 192 0 0 1 494.33 403.24Q324.2 314.25 211.04 159.14ZM218.3 154.1A192 192 0 0 1 218.59 153.9Q324.2 314.25 494.57 402.79A192 192 0 0 1 494.42 403.07Q324.2 314.25 218.3 154.1ZM226.59 148.92A192 192 0 0 1 226.87 148.75Q324.2 314.25 494.7 402.52A192 192 0 0 1 494.57 402.79Q324.2 314.25 226.59 148.92ZM235.6 143.92A192 192 0 0 1 235.93 143.74Q324.2 314.25 494.86 402.23A192 192 0 0 1 494.7 402.52Q324.2 314.25 235.6 143.92ZM246.58 138.64A192 192 0 0 1 246.85 138.52Q324.2 314.25 494.98 401.99A192 192 0 0 1 494.86 402.23Q324.2 314.25 246.58 138.64ZM258.2 133.95A192 192 0 0 1 258.53 133.83Q324.2 314.25 495.12 401.72A192 192 0 0 1 494.98 401.99Q324.2 314.25 258.2 133.95ZM271.11 129.74A192 192 0 0 1 271.39 129.66Q324.2 314.25 495.24 401.48A192 192 0 0 1 495.12 401.72Q324.2 314.25 271.11 129.74ZM284.81 126.33A192 192 0 0 1 285.35 126.22Q324.2 314.25 495.46 401.04A192 192 0 0 1 495.24 401.48Q324.2 314.25 284.81 126.33ZM300.97 123.66A192 192 0 0 1 301.53 123.59Q324.2 314.25 495.69 400.59A192 192 0 0 1 495.46 401.04Q324.2 314.25 300.97 123.66ZM318 122.35A192 192 0 0 1 319.11 122.32Q324.2 314.25 496.14 399.7A192 192 0 0 1 495.69 400.59Q324.2 314.25 318 122.35ZM340.41 122.94A192 192 0 0 1 341.68 123.05Q324.2 314.25 496.64 398.67A192 192 0 0 1 496.14 399.7Q324.2 314.25 340.41 122.94ZM364.05 126.43A192 192 0 0 1 365.13 126.66Q324.2 314.25 497.08 397.78A192 192 0 0 1 496.64 398.67Q324.2 314.25 364.05 126.43ZM390.23 133.96A192 192 0 0 1 391.86 134.57Q324.2 314.25 497.76 396.36A192 192 0 0 1 497.08 397.78Q324.2 314.25 390.23 133.96ZM417.85 146.64A192 192 0 0 1 420.12 147.93Q324.2 314.25 498.75 394.23A192 192 0 0 1 497.76 396.36Q324.2 314.25 417.85 146.64ZM452.93 171.8A192 192 0 0 1 455.91 174.55Q324.2 314.25 500.23 390.91A192 192 0 0 1 498.75 394.23Q324.2 314.25 452.93 171.8Z" fill="#E31A1C"/>
<g fill="none" stroke="#E31A1C" stroke-opacity="0.5"><path d="M183.61 445.01Q324.2 314.25 493.17 405.42" stroke-width="0.006"/><path d="M181.25 442.43Q324.2 314.25 493.18 405.41" stroke-width="0.006"/><path d="M132.33 307.24Q324.2 314.25 493.19 405.39" stroke-width="0.007"/><path d="M132.49 303.62Q324.2 314.25 493.19 405.38" stroke-width="0.007"/><path d="M132.73 299.98Q324.2 314.25 493.2 405.38" stroke-width="0.007"/><path d="M133.42 292.66Q324.2 314.25 493.2 405.36" stroke-width="0.016"/><path d="M133.87 288.98Q324.2 314.25 493.21 405.35" stroke-width="0.015"/><path d="M134.41 285.19Q324.2 314.25 493.22 405.34" stroke-width="0.023"/><path d="M135.07 281.16Q324.2 314.25 493.23 405.32" stroke-width="0.022"/><path d="M135.78 277.33Q324.2 314.25 493.24 405.3" stroke-width="0.015"/><path d="M137.6 269.05Q324.2 314.25 493.27 405.25" stroke-width="0.033"/><path d="M138.73 264.6Q324.2 314.25 493.28 405.22" stroke-width="0.037"/><path d="M143 250.75Q324.2 314.25 493.35 405.09" stroke-width="0.029"/><path d="M146.46 241.64Q324.2 314.25 493.39 405.03" stroke-width="0.034"/><path d="M148.41 237.04Q324.2 314.25 493.4 405" stroke-width="0.034"/></g>
<path d="M134.4 285.25A192 192 0 0 1 134.41 285.2Q324.2 314.25 478.88 428A192 192 0 0 1 478.85 428.04Q324.2 314.25 134.4 285.25ZM135.06 281.21A192 192 0 0 1 135.07 281.17Q324.2 314.25 478.9 427.97A192 192 0 0 1 478.88 428Q324.2 314.25 135.06 281.21ZM136.59 273.44A192 192 0 0 1 136.61 273.36Q324.2 314.25 478.97 427.87A192 192 0 0 1 478.92 427.94Q324.2 314.25 136.59 273.44ZM137.58 269.14A192 192 0 0 1 137.59 269.07Q324.2 314.25 479.02 427.81A192 192 0 0 1 478.97 427.87Q324.2 314.25 137.58 269.14ZM138.69 264.74A192 192 0 0 1 138.73 264.62Q324.2 314.25 479.09 427.71A192 192 0 0 1 479.02 427.81Q324.2 314.25 138.69 264.74ZM139.94 260.28A192 192 0 0 1 139.96 260.2Q324.2 314.25 479.13 427.65A192 192 0 0 1 479.09 427.71Q324.2 314.25 139.94 260.28ZM141.35 255.69A192 192 0 0 1 141.38 255.6Q324.2 314.25 479.19 427.57A192 192 0 0 1 479.13 427.65Q324.2 314.25 141.35 255.69ZM142.97 250.85A192 192 0 0 1 143 250.76Q324.2 314.25 479.24 427.5A192 192 0 0 1 479.19 427.57Q324.2 314.25 142.97 250.85ZM144.53 246.55A192 192 0 0 1 144.58 246.42Q324.2 314.25 479.32 427.39A192 192 0 0 1 479.24 427.5Q324.2 314.25 144.53 246.55ZM146.42 241.73A192 192 0 0 1 146.45 241.66Q324.2 314.25 479.37 427.33A192 192 0 0 1 479.32 427.39Q324.2 314.25 146.42 241.73ZM148.35 237.18A192 192 0 0 1 148.4 237.06Q324.2 314.25 479.45 427.22A192 192 0 0 1 479.37 427.33Q324.2 314.25 148.35 237.18ZM150.44 232.56A192 192 0 0 1 150.49 232.46Q324.2 314.25 479.52 427.13A192 192 0 0 1 479.45 427.22Q324.2 314.25 150.44 232.56ZM152.82 227.68A192 192 0 0 1 152.9 227.53Q324.2 314.25 479.61 426.99A192 192 0 0 1 479.52 427.13Q324.2 314.25 152.82 227.68ZM155.26 223.01A192 192 0 0 1 155.34 222.87Q324.2 314.25 479.71 426.86A192 192 0 0 1 479.61 426.99Q324.2 314.25 155.26 223.01ZM158.06 218.01A192 192 0 0 1 158.12 217.91Q324.2 314.25 479.78 426.76A192 192 0 0 1 479.71 426.86Q324.2 314.25 158.06 218.01ZM160.93 213.22A192 192 0 0 1 161.01 213.09Q324.2 314.25 479.87 426.64A192 192 0 0 1 479.78 426.76Q324.2 314.25 160.93 213.22ZM163.97 208.47A192 192 0 0 1 164.09 208.29Q324.2 314.25 479.99 426.46A192 192 0 0 1 479.87 426.64Q324.2 314.25 163.97 208.47ZM167.6 203.16A192 192 0 0 1 167.71 203.01Q324.2 314.25 480.1 426.31A192 192 0 0 1 479.99 426.46Q324.2 314.25 167.6 203.16ZM171.17 198.3A192 192 0 0 1 171.4 197.99Q324.2 314.25 480.33 426A192 192 0 0 1 480.1 426.31Q324.2 314.25 171.17 198.3ZM175.36 192.96A192 192 0 0 1 175.59 192.68Q324.2 314.25 480.53 425.71A192 192 0 0 1 480.33 426Q324.2 314.25 175.36 192.96ZM180.28 187.17A192 192 0 0 1 180.43 186.99Q324.2 314.25 480.67 425.52A192 192 0 0 1 480.53 425.71Q324.2 314.25 180.28 187.17ZM185.53 181.46A192 192 0 0 1 185.72 181.26Q324.2 314.25 480.83 425.29A192 192 0 0 1 480.67 425.52Q324.2 314.25 185.53 181.46ZM191.01 175.96A192 192 0 0 1 191.29 175.69Q324.2 314.25 481.06 424.98A192 192 0 0 1 480.83 425.29Q324.2 314.25 191.01 175.96ZM197.15 170.3A192 192 0 0 1 197.39 170.09Q324.2 314.25 481.24 424.72A192 192 0 0 1 481.06 424.98Q324.2 314.25 197.15 170.3ZM203.7 164.77A192 192 0 0 1 204.13 164.43Q324.2 314.25 481.55 424.27A192 192 0 0 1 481.24 424.72Q324.2 314.25 203.7 164.77ZM210.6 159.46A192 192 0 0 1 211.04 159.14Q324.2 314.25 481.87 423.82A192 192 0 0 1 481.55 424.27Q324.2 314.25 210.6 159.46ZM217.84 154.4A192 192 0 0 1 218.3 154.1Q324.2 314.25 482.18 423.37A192 192 0 0 1 481.87 423.82Q324.2 314.25 217.84 154.4ZM226.14 149.18A192 192 0 0 1 226.59 148.92Q324.2 314.25 482.47 422.95A192 192 0 0 1 482.18 423.37Q324.2 314.25 226.14 149.18ZM234.9 144.28A192 192 0 0 1 235.6 143.92Q324.2 314.25 482.91 422.3A192 192 0 0 1 482.47 422.95Q324.2 314.25 234.9 144.28ZM245.84 138.97A192 192 0 0 1 246.58 138.64Q324.2 314.25 483.36 421.63A192 192 0 0 1 482.91 422.3Q324.2 314.25 245.84 138.97ZM257.67 134.15A192 192 0 0 1 258.2 133.95Q324.2 314.25 483.68 421.16A192 192 0 0 1 483.36 421.63Q324.2 314.25 257.67 134.15ZM269.93 130.08A192 192 0 0 1 271.11 129.74Q324.2 314.25 484.36 420.14A192 192 0 0 1 483.68 421.16Q324.2 314.25 269.93 130.08ZM284.14 126.48A192 192 0 0 1 284.81 126.33Q324.2 314.25 484.74 419.57A192 192 0 0 1 484.36 420.14Q324.2 314.25 284.14 126.48ZM300.47 123.72A192 192 0 0 1 300.97 123.66Q324.2 314.25 485.01 419.15A192 192 0 0 1 484.74 419.57Q324.2 314.25 300.47 123.72ZM317.26 122.38A192 192 0 0 1 318 122.35Q324.2 314.25 485.41 418.53A192 192 0 0 1 485.01 419.15Q324.2 314.25 317.26 122.38ZM339.31 122.85A192 192 0 0 1 340.41 122.94Q324.2 314.25 486.01 417.6A192 192 0 0 1 485.41 418.53Q324.2 314.25 339.31 122.85ZM361.69 125.95A192 192 0 0 1 364.05 126.43Q324.2 314.25 487.29 415.56A192 192 0 0 1 486.01 417.6Q324.2 314.25 361.69 125.95ZM388.9 133.48A192 192 0 0 1 390.23 133.96Q324.2 314.25 488.03 414.37A192 192 0 0 1 487.29 415.56Q324.2 314.25 388.9 133.48ZM417.03 146.18A192 192 0 0 1 417.85 146.64Q324.2 314.25 488.52 413.57A192 192 0 0 1 488.03 414.37Q324.2 314.25 417.03 146.18ZM451.06 170.13A192 192 0 0 1 452.93 171.8Q324.2 314.25 489.8 411.41A192 192 0 0 1 488.52 413.57Q324.2 314.25 451.06 170.13Z" fill="#A6CEE3"/>
<g fill="none" stroke="#A6CEE3" stroke-opacity="0.5"><path d="M152.04 399.24Q324.2 314.25 478.74 428.18" stroke-width="0.007"/><path d="M143.81 379.99Q324.2 314.25 478.75 428.18" stroke-width="0.008"/><path d="M133.83 339.22Q324.2 314.25 478.75 428.17" stroke-width="0.009"/><path d="M132.34 321.58Q324.2 314.25 478.77 428.15" stroke-width="0.007"/><path d="M132.24 318.02Q324.2 314.25 478.77 428.14" stroke-width="0.008"/><path d="M132.2 314.44Q324.2 314.25 478.78 428.14" stroke-width="0.008"/><path d="M132.23 310.85Q324.2 314.25 478.78 428.13" stroke-width="0.009"/><path d="M132.33 307.25Q324.2 314.25 478.79 428.12" stroke-width="0.015"/><path d="M132.49 303.63Q324.2 314.25 478.8 428.11" stroke-width="0.011"/><path d="M132.73 300Q324.2 314.25 478.81 428.1" stroke-width="0.022"/><path d="M133.04 296.34Q324.2 314.25 478.82 428.08" stroke-width="0.013"/><path d="M133.42 292.68Q324.2 314.25 478.83 428.07" stroke-width="0.019"/><path d="M133.87 289Q324.2 314.25 478.84 428.05" stroke-width="0.025"/><path d="M135.78 277.35Q324.2 314.25 478.91 427.95" stroke-width="0.038"/></g>
<path d="M134.4 285.29A192 192 0 0 1 134.4 285.25Q324.2 314.25 459.64 450.34A192 192 0 0 1 459.6 450.37Q324.2 314.25 134.4 285.29ZM135.77 277.42A192 192 0 0 1 135.77 277.37Q324.2 314.25 459.7 450.28A192 192 0 0 1 459.66 450.32Q324.2 314.25 135.77 277.42ZM137.56 269.18A192 192 0 0 1 137.58 269.14Q324.2 314.25 459.76 450.22A192 192 0 0 1 459.72 450.26Q324.2 314.25 137.56 269.18ZM138.68 264.8A192 192 0 0 1 138.69 264.74Q324.2 314.25 459.8 450.18A192 192 0 0 1 459.76 450.22Q324.2 314.25 138.68 264.8ZM139.92 260.35A192 192 0 0 1 139.94 260.28Q324.2 314.25 459.85 450.12A192 192 0 0 1 459.8 450.18Q324.2 314.25 139.92 260.35ZM141.32 255.77A192 192 0 0 1 141.35 255.69Q324.2 314.25 459.91 450.07A192 192 0 0 1 459.85 450.12Q324.2 314.25 141.32 255.77ZM142.95 250.91A192 192 0 0 1 142.97 250.85Q324.2 314.25 459.96 450.02A192 192 0 0 1 459.91 450.07Q324.2 314.25 142.95 250.91ZM144.5 246.64A192 192 0 0 1 144.53 246.55Q324.2 314.25 460.02 449.96A192 192 0 0 1 459.96 450.02Q324.2 314.25 144.5 246.64ZM146.38 241.83A192 192 0 0 1 146.42 241.73Q324.2 314.25 460.1 449.88A192 192 0 0 1 460.02 449.96Q324.2 314.25 146.38 241.83ZM148.3 237.28A192 192 0 0 1 148.35 237.18Q324.2 314.25 460.18 449.8A192 192 0 0 1 460.1 449.88Q324.2 314.25 148.3 237.28ZM150.4 232.65A192 192 0 0 1 150.44 232.56Q324.2 314.25 460.25 449.73A192 192 0 0 1 460.18 449.8Q324.2 314.25 150.4 232.65ZM152.76 227.8A192 192 0 0 1 152.82 227.68Q324.2 314.25 460.35 449.63A192 192 0 0 1 460.25 449.73Q324.2 314.25 152.76 227.8ZM155.19 223.15A192 192 0 0 1 155.26 223.01Q324.2 314.25 460.46 449.51A192 192 0 0 1 460.35 449.63Q324.2 314.25 155.19 223.15ZM158.01 218.1A192 192 0 0 1 158.06 218.01Q324.2 314.25 460.54 449.44A192 192 0 0 1 460.46 449.51Q324.2 314.25 158.01 218.1ZM160.88 213.3A192 192 0 0 1 160.93 213.22Q324.2 314.25 460.6 449.38A192 192 0 0 1 460.54 449.44Q324.2 314.25 160.88 213.3ZM163.89 208.58A192 192 0 0 1 163.97 208.47Q324.2 314.25 460.7 449.28A192 192 0 0 1 460.6 449.38Q324.2 314.25 163.89 208.58ZM167.48 203.33A192 192 0 0 1 167.6 203.16Q324.2 314.25 460.85 449.12A192 192 0 0 1 460.7 449.28Q324.2 314.25 167.48 203.33ZM171.03 198.48A192 192 0 0 1 171.17 198.3Q324.2 314.25 461.02 448.96A192 192 0 0 1 460.85 449.12Q324.2 314.25 171.03 198.48ZM175.23 193.13A192 192 0 0 1 175.36 192.96Q324.2 314.25 461.17 448.8A192 192 0 0 1 461.02 448.96Q324.2 314.25 175.23 193.13ZM180.08 187.39A192 192 0 0 1 180.28 187.17Q324.2 314.25 461.38 448.58A192 192 0 0 1 461.17 448.8Q324.2 314.25 180.08 187.39ZM185.32 181.67A192 192 0 0 1 185.53 181.46Q324.2 314.25 461.59 448.37A192 192 0 0 1 461.38 448.58Q324.2 314.25 185.32 181.67ZM190.75 176.21A192 192 0 0 1 191.01 175.96Q324.2 314.25 461.85 448.1A192 192 0 0 1 461.59 448.37Q324.2 314.25 190.75 176.21ZM196.85 170.56A192 192 0 0 1 197.15 170.3Q324.2 314.25 462.13 447.81A192 192 0 0 1 461.85 448.1Q324.2 314.25 196.85 170.56ZM203.3 165.09A192 192 0 0 1 203.7 164.77Q324.2 314.25 462.49 447.44A192 192 0 0 1 462.13 447.81Q324.2 314.25 203.3 165.09ZM210.25 159.72A192 192 0 0 1 210.6 159.46Q324.2 314.25 462.8 447.12A192 192 0 0 1 462.49 447.44Q324.2 314.25 210.25 159.72ZM217.47 154.65A192 192 0 0 1 217.84 154.4Q324.2 314.25 463.11 446.79A192 192 0 0 1 462.8 447.12Q324.2 314.25 217.47 154.65ZM225.8 149.38A192 192 0 0 1 226.14 149.18Q324.2 314.25 463.4 446.49A192 192 0 0 1 463.11 446.79Q324.2 314.25 225.8 149.38ZM234.46 144.51A192 192 0 0 1 234.9 144.28Q324.2 314.25 463.75 446.12A192 192 0 0 1 463.4 446.49Q324.2 314.25 234.46 144.51ZM245.13 139.29A192 192 0 0 1 245.84 138.97Q324.2 314.25 464.3 445.54A192 192 0 0 1 463.75 446.12Q324.2 314.25 245.13 139.29ZM257.2 134.32A192 192 0 0 1 257.67 134.15Q324.2 314.25 464.64 445.17A192 192 0 0 1 464.3 445.54Q324.2 314.25 257.2 134.32ZM269.25 130.28A192 192 0 0 1 269.93 130.08Q324.2 314.25 465.14 444.64A192 192 0 0 1 464.64 445.17Q324.2 314.25 269.25 130.28ZM283.33 126.65A192 192 0 0 1 284.14 126.48Q324.2 314.25 465.71 444.02A192 192 0 0 1 465.14 444.64Q324.2 314.25 283.33 126.65ZM299.21 123.88A192 192 0 0 1 300.47 123.72Q324.2 314.25 466.58 443.05A192 192 0 0 1 465.71 444.02Q324.2 314.25 299.21 123.88ZM316.16 122.42A192 192 0 0 1 317.26 122.38Q324.2 314.25 467.34 442.21A192 192 0 0 1 466.58 443.05Q324.2 314.25 316.16 122.42ZM337.71 122.73A192 192 0 0 1 339.31 122.85Q324.2 314.25 468.43 440.99A192 192 0 0 1 467.34 442.21Q324.2 314.25 337.71 122.73ZM360.05 125.63A192 192 0 0 1 361.69 125.95Q324.2 314.25 469.55 439.7A192 192 0 0 1 468.43 440.99Q324.2 314.25 360.05 125.63ZM387.17 132.87A192 192 0 0 1 388.9 133.48Q324.2 314.25 470.77 438.27A192 192 0 0 1 469.55 439.7Q324.2 314.25 387.17 132.87ZM414.35 144.73A192 192 0 0 1 417.03 146.18Q324.2 314.25 472.76 435.88A192 192 0 0 1 470.77 438.27Q324.2 314.25 414.35 144.73ZM449.11 168.44A192 192 0 0 1 451.06 170.13Q324.2 314.25 474.42 433.83A192 192 0 0 1 472.76 435.88Q324.2 314.25 449.11 168.44Z" fill="#B2DF8A"/>
<g fill="none" stroke="#B2DF8A" stroke-opacity="0.5"><path d="M155.24 405.44Q324.2 314.25 459.49 450.49" stroke-width="0.007"/><path d="M134.87 346.18Q324.2 314.25 459.5 450.48" stroke-width="0.008"/><path d="M132.23 310.86Q324.2 314.25 459.53 450.45" stroke-width="0.009"/><path d="M132.33 307.26Q324.2 314.25 459.53 450.44" stroke-width="0.01"/><path d="M132.49 303.64Q324.2 314.25 459.54 450.44" stroke-width="0.01"/><path d="M132.73 300.02Q324.2 314.25 459.55 450.43" stroke-width="0.017"/><path d="M133.04 296.35Q324.2 314.25 459.56 450.41" stroke-width="0.018"/><path d="M133.41 292.7Q324.2 314.25 459.58 450.4" stroke-width="0.018"/><path d="M133.86 289.03Q324.2 314.25 459.59 450.38" stroke-width="0.03"/><path d="M135.06 281.22Q324.2 314.25 459.65 450.33" stroke-width="0.035"/><path d="M136.58 273.46Q324.2 314.25 459.71 450.27" stroke-width="0.036"/></g>
<path d="M134.39 285.34A192 192 0 0 1 134.4 285.29Q324.2 314.25 431.61 473.39A192 192 0 0 1 431.57 473.42Q324.2 314.25 134.39 285.34ZM135.05 281.29A192 192 0 0 1 135.06 281.24Q324.2 314.25 431.66 473.36A192 192 0 0 1 431.61 473.39Q324.2 314.25 135.05 281.29ZM135.75 277.48A192 192 0 0 1 135.77 277.42Q324.2 314.25 431.71 473.33A192 192 0 0 1 431.66 473.36Q324.2 314.25 135.75 277.48ZM136.56 273.55A192 192 0 0 1 136.58 273.47Q324.2 314.25 431.77 473.29A192 192 0 0 1 431.71 473.33Q324.2 314.25 136.56 273.55ZM137.55 269.24A192 192 0 0 1 137.56 269.18Q324.2 314.25 431.82 473.25A192 192 0 0 1 431.77 473.29Q324.2 314.25 137.55 269.24ZM138.65 264.9A192 192 0 0 1 138.68 264.8Q324.2 314.25 431.91 473.19A192 192 0 0 1 431.82 473.25Q324.2 314.25 138.65 264.9ZM139.89 260.44A192 192 0 0 1 139.92 260.35Q324.2 314.25 431.99 473.14A192 192 0 0 1 431.91 473.19Q324.2 314.25 139.89 260.44ZM141.28 255.9A192 192 0 0 1 141.32 255.77Q324.2 314.25 432.1 473.06A192 192 0 0 1 431.99 473.14Q324.2 314.25 141.28 255.9ZM142.91 251.01A192 192 0 0 1 142.95 250.91Q324.2 314.25 432.19 473A192 192 0 0 1 432.1 473.06Q324.2 314.25 142.91 251.01ZM144.46 246.73A192 192 0 0 1 144.5 246.64Q324.2 314.25 432.28 472.94A192 192 0 0 1 432.19 473Q324.2 314.25 144.46 246.73ZM146.33 241.95A192 192 0 0 1 146.38 241.83Q324.2 314.25 432.38 472.87A192 192 0 0 1 432.28 472.94Q324.2 314.25 146.33 241.95ZM148.24 237.43A192 192 0 0 1 148.3 237.28Q324.2 314.25 432.51 472.79A192 192 0 0 1 432.38 472.87Q324.2 314.25 148.24 237.43ZM150.36 232.74A192 192 0 0 1 150.4 232.65Q324.2 314.25 432.58 472.73A192 192 0 0 1 432.51 472.79Q324.2 314.25 150.36 232.74ZM152.69 227.95A192 192 0 0 1 152.76 227.8Q324.2 314.25 432.71 472.64A192 192 0 0 1 432.58 472.73Q324.2 314.25 152.69 227.95ZM155.12 223.29A192 192 0 0 1 155.19 223.15Q324.2 314.25 432.84 472.56A192 192 0 0 1 432.71 472.64Q324.2 314.25 155.12 223.29ZM157.92 218.25A192 192 0 0 1 158.01 218.1Q324.2 314.25 432.98 472.46A192 192 0 0 1 432.84 472.56Q324.2 314.25 157.92 218.25ZM160.78 213.46A192 192 0 0 1 160.88 213.3Q324.2 314.25 433.13 472.36A192 192 0 0 1 432.98 472.46Q324.2 314.25 160.78 213.46ZM163.79 208.74A192 192 0 0 1 163.89 208.58Q324.2 314.25 433.28 472.25A192 192 0 0 1 433.13 472.36Q324.2 314.25 163.79 208.74ZM167.29 203.6A192 192 0 0 1 167.48 203.33Q324.2 314.25 433.55 472.07A192 192 0 0 1 433.28 472.25Q324.2 314.25 167.29 203.6ZM170.77 198.82A192 192 0 0 1 171.03 198.48Q324.2 314.25 433.9 471.83A192 192 0 0 1 433.55 472.07Q324.2 314.25 170.77 198.82ZM175.05 193.34A192 192 0 0 1 175.23 193.13Q324.2 314.25 434.12 471.67A192 192 0 0 1 433.9 471.83Q324.2 314.25 175.05 193.34ZM179.79 187.72A192 192 0 0 1 180.08 187.39Q324.2 314.25 434.48 471.42A192 192 0 0 1 434.12 471.67Q324.2 314.25 179.79 187.72ZM185.09 181.92A192 192 0 0 1 185.32 181.67Q324.2 314.25 434.75 471.23A192 192 0 0 1 434.48 471.42Q324.2 314.25 185.09 181.92ZM190.49 176.46A192 192 0 0 1 190.75 176.21Q324.2 314.25 435.05 471.02A192 192 0 0 1 434.75 471.23Q324.2 314.25 190.49 176.46ZM196.56 170.82A192 192 0 0 1 196.85 170.56Q324.2 314.25 435.36 470.8A192 192 0 0 1 435.05 471.02Q324.2 314.25 196.56 170.82ZM202.83 165.48A192 192 0 0 1 203.3 165.09Q324.2 314.25 435.85 470.45A192 192 0 0 1 435.36 470.8Q324.2 314.25 202.83 165.48ZM209.88 159.99A192 192 0 0 1 210.25 159.72Q324.2 314.25 436.21 470.19A192 192 0 0 1 435.85 470.45Q324.2 314.25 209.88 159.99ZM217.14 154.87A192 192 0 0 1 217.47 154.65Q324.2 314.25 436.53 469.96A192 192 0 0 1 436.21 470.19Q324.2 314.25 217.14 154.87ZM225.11 149.79A192 192 0 0 1 225.8 149.38Q324.2 314.25 437.16 469.5A192 192 0 0 1 436.53 469.96Q324.2 314.25 225.11 149.79ZM233.58 144.98A192 192 0 0 1 234.46 144.51Q324.2 314.25 437.95 468.93A192 192 0 0 1 437.16 469.5Q324.2 314.25 233.58 144.98ZM244.42 139.61A192 192 0 0 1 245.13 139.29Q324.2 314.25 438.57 468.47A192 192 0 0 1 437.95 468.93Q324.2 314.25 244.42 139.61ZM256.25 134.68A192 192 0 0 1 257.2 134.32Q324.2 314.25 439.38 467.87A192 192 0 0 1 438.57 468.47Q324.2 314.25 256.25 134.68ZM268.24 130.59A192 192 0 0 1 269.25 130.28Q324.2 314.25 440.21 467.24A192 192 0 0 1 439.38 467.87Q324.2 314.25 268.24 130.59ZM282.13 126.92A192 192 0 0 1 283.33 126.65Q324.2 314.25 441.17 466.5A192 192 0 0 1 440.21 467.24Q324.2 314.25 282.13 126.92ZM297.84 124.07A192 192 0 0 1 299.21 123.88Q324.2 314.25 442.25 465.67A192 192 0 0 1 441.17 466.5Q324.2 314.25 297.84 124.07ZM314.75 122.48A192 192 0 0 1 316.16 122.42Q324.2 314.25 443.34 464.82A192 192 0 0 1 442.25 465.67Q324.2 314.25 314.75 122.48ZM336.44 122.64A192 192 0 0 1 337.71 122.73Q324.2 314.25 444.32 464.04A192 192 0 0 1 443.34 464.82Q324.2 314.25 336.44 122.64ZM357.9 125.23A192 192 0 0 1 360.05 125.63Q324.2 314.25 445.99 462.68A192 192 0 0 1 444.32 464.04Q324.2 314.25 357.9 125.23ZM385.84 132.41A192 192 0 0 1 387.17 132.87Q324.2 314.25 447.06 461.8A192 192 0 0 1 445.99 462.68Q324.2 314.25 385.84 132.41ZM412.04 143.52A192 192 0 0 1 414.35 144.73Q324.2 314.25 449.02 460.14A192 192 0 0 1 447.06 461.8Q324.2 314.25 412.04 143.52ZM444.37 164.5A192 192 0 0 1 449.11 168.44Q324.2 314.25 453.58 456.12A192 192 0 0 1 449.02 460.14Q324.2 314.25 444.37 164.5Z" fill="#CAB2D6"/>
<g fill="none" stroke="#CAB2D6" stroke-opacity="0.5"><path d="M132.34 321.59Q324.2 314.25 431.42 473.52" stroke-width="0.009"/><path d="M132.2 314.46Q324.2 314.25 431.43 473.52" stroke-width="0.009"/><path d="M132.23 310.87Q324.2 314.25 431.44 473.51" stroke-width="0.009"/><path d="M132.33 307.27Q324.2 314.25 431.45 473.5" stroke-width="0.016"/><path d="M132.49 303.66Q324.2 314.25 431.46 473.49" stroke-width="0.021"/><path d="M132.73 300.04Q324.2 314.25 431.48 473.48" stroke-width="0.025"/><path d="M133.03 296.38Q324.2 314.25 431.51 473.47" stroke-width="0.031"/><path d="M133.41 292.72Q324.2 314.25 431.53 473.45" stroke-width="0.026"/><path d="M133.86 289.06Q324.2 314.25 431.56 473.43" stroke-width="0.039"/></g>
<path d="M133.41 292.77A192 192 0 0 1 133.41 292.73Q324.2 314.25 393.08 493.47A192 192 0 0 1 393.05 493.48Q324.2 314.25 133.41 292.77ZM133.85 289.12A192 192 0 0 1 133.86 289.08Q324.2 314.25 393.12 493.45A192 192 0 0 1 393.08 493.47Q324.2 314.25 133.85 289.12ZM134.38 285.39A192 192 0 0 1 134.39 285.34Q324.2 314.25 393.17 493.43A192 192 0 0 1 393.12 493.45Q324.2 314.25 134.38 285.39ZM135.04 281.35A192 192 0 0 1 135.05 281.29Q324.2 314.25 393.23 493.41A192 192 0 0 1 393.17 493.43Q324.2 314.25 135.04 281.35ZM135.74 277.56A192 192 0 0 1 135.75 277.48Q324.2 314.25 393.3 493.38A192 192 0 0 1 393.23 493.41Q324.2 314.25 135.74 277.56ZM136.54 273.65A192 192 0 0 1 136.56 273.55Q324.2 314.25 393.39 493.35A192 192 0 0 1 393.3 493.38Q324.2 314.25 136.54 273.65ZM137.53 269.34A192 192 0 0 1 137.55 269.24Q324.2 314.25 393.48 493.32A192 192 0 0 1 393.39 493.35Q324.2 314.25 137.53 269.34ZM138.61 265.05A192 192 0 0 1 138.65 264.9Q324.2 314.25 393.62 493.26A192 192 0 0 1 393.48 493.32Q324.2 314.25 138.61 265.05ZM139.85 260.6A192 192 0 0 1 139.89 260.44Q324.2 314.25 393.78 493.2A192 192 0 0 1 393.62 493.26Q324.2 314.25 139.85 260.6ZM141.25 256.01A192 192 0 0 1 141.28 255.9Q324.2 314.25 393.89 493.16A192 192 0 0 1 393.78 493.2Q324.2 314.25 141.25 256.01ZM142.88 251.1A192 192 0 0 1 142.91 251.01Q324.2 314.25 393.98 493.12A192 192 0 0 1 393.89 493.16Q324.2 314.25 142.88 251.1ZM144.42 246.85A192 192 0 0 1 144.46 246.73Q324.2 314.25 394.09 493.08A192 192 0 0 1 393.98 493.12Q324.2 314.25 144.42 246.85ZM146.27 242.11A192 192 0 0 1 146.33 241.95Q324.2 314.25 394.26 493.01A192 192 0 0 1 394.09 493.08Q324.2 314.25 146.27 242.11ZM148.21 237.5A192 192 0 0 1 148.24 237.43Q324.2 314.25 394.33 492.98A192 192 0 0 1 394.26 493.01Q324.2 314.25 148.21 237.5ZM150.29 232.9A192 192 0 0 1 150.36 232.74Q324.2 314.25 394.5 492.92A192 192 0 0 1 394.33 492.98Q324.2 314.25 150.29 232.9ZM152.64 228.04A192 192 0 0 1 152.69 227.95Q324.2 314.25 394.6 492.88A192 192 0 0 1 394.5 492.92Q324.2 314.25 152.64 228.04ZM155.03 223.44A192 192 0 0 1 155.12 223.29Q324.2 314.25 394.76 492.82A192 192 0 0 1 394.6 492.88Q324.2 314.25 155.03 223.44ZM157.86 218.36A192 192 0 0 1 157.92 218.25Q324.2 314.25 394.87 492.77A192 192 0 0 1 394.76 492.82Q324.2 314.25 157.86 218.36ZM160.67 213.64A192 192 0 0 1 160.78 213.46Q324.2 314.25 395.07 492.69A192 192 0 0 1 394.87 492.77Q324.2 314.25 160.67 213.64ZM163.68 208.9A192 192 0 0 1 163.79 208.74Q324.2 314.25 395.25 492.62A192 192 0 0 1 395.07 492.69Q324.2 314.25 163.68 208.9ZM167.1 203.87A192 192 0 0 1 167.29 203.6Q324.2 314.25 395.56 492.5A192 192 0 0 1 395.25 492.62Q324.2 314.25 167.1 203.87ZM170.6 199.05A192 192 0 0 1 170.77 198.82Q324.2 314.25 395.82 492.39A192 192 0 0 1 395.56 492.5Q324.2 314.25 170.6 199.05ZM174.85 193.59A192 192 0 0 1 175.05 193.34Q324.2 314.25 396.11 492.28A192 192 0 0 1 395.82 492.39Q324.2 314.25 174.85 193.59ZM179.54 188A192 192 0 0 1 179.79 187.72Q324.2 314.25 396.45 492.14A192 192 0 0 1 396.11 492.28Q324.2 314.25 179.54 188ZM184.71 182.31A192 192 0 0 1 185.09 181.92Q324.2 314.25 396.95 491.93A192 192 0 0 1 396.45 492.14Q324.2 314.25 184.71 182.31ZM190.21 176.73A192 192 0 0 1 190.49 176.46Q324.2 314.25 397.31 491.78A192 192 0 0 1 396.95 491.93Q324.2 314.25 190.21 176.73ZM196.22 171.12A192 192 0 0 1 196.56 170.82Q324.2 314.25 397.73 491.61A192 192 0 0 1 397.31 491.78Q324.2 314.25 196.22 171.12ZM202.26 165.94A192 192 0 0 1 202.83 165.48Q324.2 314.25 398.4 491.33A192 192 0 0 1 397.73 491.61Q324.2 314.25 202.26 165.94ZM209.49 160.29A192 192 0 0 1 209.88 159.99Q324.2 314.25 398.85 491.14A192 192 0 0 1 398.4 491.33Q324.2 314.25 209.49 160.29ZM216.44 155.34A192 192 0 0 1 217.14 154.87Q324.2 314.25 399.63 490.81A192 192 0 0 1 398.85 491.14Q324.2 314.25 216.44 155.34ZM224.28 150.3A192 192 0 0 1 225.11 149.79Q324.2 314.25 400.52 490.43A192 192 0 0 1 399.63 490.81Q324.2 314.25 224.28 150.3ZM232.8 145.4A192 192 0 0 1 233.58 144.98Q324.2 314.25 401.33 490.08A192 192 0 0 1 400.52 490.43Q324.2 314.25 232.8 145.4ZM243.6 139.99A192 192 0 0 1 244.42 139.61Q324.2 314.25 402.15 489.72A192 192 0 0 1 401.33 490.08Q324.2 314.25 243.6 139.99ZM255.33 135.03A192 192 0 0 1 256.25 134.68Q324.2 314.25 403.03 489.32A192 192 0 0 1 402.15 489.72Q324.2 314.25 255.33 135.03ZM266.8 131.03A192 192 0 0 1 268.24 130.59Q324.2 314.25 404.38 488.7A192 192 0 0 1 403.03 489.32Q324.2 314.25 266.8 131.03ZM281.28 127.11A192 192 0 0 1 282.13 126.92Q324.2 314.25 405.17 488.34A192 192 0 0 1 404.38 488.7Q324.2 314.25 281.28 127.11ZM295.72 124.37A192 192 0 0 1 297.84 124.07Q324.2 314.25 407.09 487.44A192 192 0 0 1 405.17 488.34Q324.2 314.25 295.72 124.37ZM312.08 122.63A192 192 0 0 1 314.75 122.48Q324.2 314.25 409.47 486.28A192 192 0 0 1 407.09 487.44Q324.2 314.25 312.08 122.63ZM333.97 122.5A192 192 0 0 1 336.44 122.64Q324.2 314.25 411.66 485.17A192 192 0 0 1 409.47 486.28Q324.2 314.25 333.97 122.5ZM355.16 124.76A192 192 0 0 1 357.9 125.23Q324.2 314.25 414.1 483.9A192 192 0 0 1 411.66 485.17Q324.2 314.25 355.16 124.76ZM382.63 131.36A192 192 0 0 1 385.84 132.41Q324.2 314.25 417.04 482.31A192 192 0 0 1 414.1 483.9Q324.2 314.25 382.63 131.36ZM408.24 141.62A192 192 0 0 1 412.04 143.52Q324.2 314.25 420.7 480.24A192 192 0 0 1 417.04 482.31Q324.2 314.25 408.24 141.62ZM442.4 162.94A192 192 0 0 1 444.37 164.5Q324.2 314.25 422.84 478.97A192 192 0 0 1 420.7 480.24Q324.2 314.25 442.4 162.94Z" fill="#A6CEE3"/>
<g fill="none" stroke="#A6CEE3" stroke-opacity="0.5"><path d="M134.32 342.7Q324.2 314.25 392.92 493.53" stroke-width="0.017"/><path d="M132.51 325.15Q324.2 314.25 392.95 493.52" stroke-width="0.008"/><path d="M132.34 321.6Q324.2 314.25 392.96 493.52" stroke-width="0.009"/><path d="M132.24 318.04Q324.2 314.25 392.97 493.51" stroke-width="0.012"/><path d="M132.2 314.47Q324.2 314.25 392.97 493.51" stroke-width="0.008"/><path d="M132.23 310.88Q324.2 314.25 392.99 493.51" stroke-width="0.014"/><path d="M132.33 307.29Q324.2 314.25 393 493.5" stroke-width="0.01"/><path d="M132.49 303.67Q324.2 314.25 393.01 493.5" stroke-width="0.014"/><path d="M132.73 300.06Q324.2 314.25 393.02 493.49" stroke-width="0.014"/><path d="M133.03 296.4Q324.2 314.25 393.04 493.49" stroke-width="0.02"/></g>
<path d="M133.03 296.46A192 192 0 0 1 133.03 296.42Q324.2 314.25 346.63 504.94A192 192 0 0 1 346.58 504.94Q324.2 314.25 133.03 296.46ZM133.4 292.83A192 192 0 0 1 133.41 292.77Q324.2 314.25 346.68 504.93A192 192 0 0 1 346.63 504.94Q324.2 314.25 133.4 292.83ZM133.85 289.17A192 192 0 0 1 133.85 289.12Q324.2 314.25 346.73 504.92A192 192 0 0 1 346.68 504.93Q324.2 314.25 133.85 289.17ZM134.37 285.47A192 192 0 0 1 134.38 285.39Q324.2 314.25 346.81 504.91A192 192 0 0 1 346.73 504.92Q324.2 314.25 134.37 285.47ZM135.03 281.4A192 192 0 0 1 135.04 281.35Q324.2 314.25 346.85 504.91A192 192 0 0 1 346.81 504.91Q324.2 314.25 135.03 281.4ZM135.72 277.65A192 192 0 0 1 135.74 277.56Q324.2 314.25 346.94 504.9A192 192 0 0 1 346.85 504.91Q324.2 314.25 135.72 277.65ZM136.52 273.73A192 192 0 0 1 136.54 273.65Q324.2 314.25 347.03 504.89A192 192 0 0 1 346.94 504.9Q324.2 314.25 136.52 273.73ZM137.5 269.44A192 192 0 0 1 137.53 269.34Q324.2 314.25 347.13 504.88A192 192 0 0 1 347.03 504.89Q324.2 314.25 137.5 269.44ZM138.55 265.26A192 192 0 0 1 138.61 265.05Q324.2 314.25 347.35 504.85A192 192 0 0 1 347.13 504.88Q324.2 314.25 138.55 265.26ZM139.81 260.74A192 192 0 0 1 139.85 260.6Q324.2 314.25 347.48 504.83A192 192 0 0 1 347.35 504.85Q324.2 314.25 139.81 260.74ZM141.2 256.17A192 192 0 0 1 141.25 256.01Q324.2 314.25 347.65 504.81A192 192 0 0 1 347.48 504.83Q324.2 314.25 141.2 256.17ZM142.81 251.31A192 192 0 0 1 142.88 251.1Q324.2 314.25 347.86 504.79A192 192 0 0 1 347.65 504.81Q324.2 314.25 142.81 251.31ZM144.34 247.07A192 192 0 0 1 144.42 246.85Q324.2 314.25 348.1 504.76A192 192 0 0 1 347.86 504.79Q324.2 314.25 144.34 247.07ZM146.21 242.24A192 192 0 0 1 146.27 242.11Q324.2 314.25 348.24 504.74A192 192 0 0 1 348.1 504.76Q324.2 314.25 146.21 242.24ZM148.13 237.67A192 192 0 0 1 148.21 237.5Q324.2 314.25 348.42 504.72A192 192 0 0 1 348.24 504.74Q324.2 314.25 148.13 237.67ZM150.16 233.17A192 192 0 0 1 150.29 232.9Q324.2 314.25 348.71 504.68A192 192 0 0 1 348.42 504.72Q324.2 314.25 150.16 233.17ZM152.56 228.2A192 192 0 0 1 152.64 228.04Q324.2 314.25 348.89 504.66A192 192 0 0 1 348.71 504.68Q324.2 314.25 152.56 228.2ZM154.92 223.66A192 192 0 0 1 155.03 223.44Q324.2 314.25 349.13 504.63A192 192 0 0 1 348.89 504.66Q324.2 314.25 154.92 223.66ZM157.69 218.65A192 192 0 0 1 157.86 218.36Q324.2 314.25 349.45 504.58A192 192 0 0 1 349.13 504.63Q324.2 314.25 157.69 218.65ZM160.51 213.9A192 192 0 0 1 160.67 213.64Q324.2 314.25 349.75 504.54A192 192 0 0 1 349.45 504.58Q324.2 314.25 160.51 213.9ZM163.53 209.13A192 192 0 0 1 163.68 208.9Q324.2 314.25 350.02 504.51A192 192 0 0 1 349.75 504.54Q324.2 314.25 163.53 209.13ZM166.94 204.1A192 192 0 0 1 167.1 203.87Q324.2 314.25 350.3 504.47A192 192 0 0 1 350.02 504.51Q324.2 314.25 166.94 204.1ZM170.27 199.5A192 192 0 0 1 170.6 199.05Q324.2 314.25 350.84 504.39A192 192 0 0 1 350.3 504.47Q324.2 314.25 170.27 199.5ZM174.56 193.95A192 192 0 0 1 174.85 193.59Q324.2 314.25 351.29 504.33A192 192 0 0 1 350.84 504.39Q324.2 314.25 174.56 193.95ZM178.99 188.64A192 192 0 0 1 179.54 188Q324.2 314.25 352.12 504.21A192 192 0 0 1 351.29 504.33Q324.2 314.25 178.99 188.64ZM184.1 182.97A192 192 0 0 1 184.71 182.31Q324.2 314.25 352.99 504.08A192 192 0 0 1 352.12 504.21Q324.2 314.25 184.1 182.97ZM189.6 177.33A192 192 0 0 1 190.21 176.73Q324.2 314.25 353.82 503.95A192 192 0 0 1 352.99 504.08Q324.2 314.25 189.6 177.33ZM195.81 171.5A192 192 0 0 1 196.22 171.12Q324.2 314.25 354.37 503.86A192 192 0 0 1 353.82 503.95Q324.2 314.25 195.81 171.5ZM201.86 166.28A192 192 0 0 1 202.26 165.94Q324.2 314.25 354.88 503.78A192 192 0 0 1 354.37 503.86Q324.2 314.25 201.86 166.28ZM208.93 160.7A192 192 0 0 1 209.49 160.29Q324.2 314.25 355.56 503.67A192 192 0 0 1 354.88 503.78Q324.2 314.25 208.93 160.7ZM215.7 155.84A192 192 0 0 1 216.44 155.34Q324.2 314.25 356.42 503.53A192 192 0 0 1 355.56 503.67Q324.2 314.25 215.7 155.84ZM223.3 150.9A192 192 0 0 1 224.28 150.3Q324.2 314.25 357.54 503.33A192 192 0 0 1 356.42 503.53Q324.2 314.25 223.3 150.9ZM231.48 146.12A192 192 0 0 1 232.8 145.4Q324.2 314.25 359 503.07A192 192 0 0 1 357.54 503.33Q324.2 314.25 231.48 146.12ZM242.69 140.41A192 192 0 0 1 243.6 139.99Q324.2 314.25 359.97 502.89A192 192 0 0 1 359 503.07Q324.2 314.25 242.69 140.41ZM253.67 135.68A192 192 0 0 1 255.33 135.03Q324.2 314.25 361.7 502.55A192 192 0 0 1 359.97 502.89Q324.2 314.25 253.67 135.68ZM265.09 131.58A192 192 0 0 1 266.8 131.03Q324.2 314.25 363.44 502.2A192 192 0 0 1 361.7 502.55Q324.2 314.25 265.09 131.58ZM279.15 127.61A192 192 0 0 1 281.28 127.11Q324.2 314.25 365.54 501.75A192 192 0 0 1 363.44 502.2Q324.2 314.25 279.15 127.61ZM294.07 124.63A192 192 0 0 1 295.72 124.37Q324.2 314.25 367.16 501.38A192 192 0 0 1 365.54 501.75Q324.2 314.25 294.07 124.63ZM310.47 122.74A192 192 0 0 1 312.08 122.63Q324.2 314.25 368.7 501.02A192 192 0 0 1 367.16 501.38Q324.2 314.25 310.47 122.74ZM331.83 122.4A192 192 0 0 1 333.97 122.5Q324.2 314.25 370.75 500.52A192 192 0 0 1 368.7 501.02Q324.2 314.25 331.83 122.4ZM352.48 124.34A192 192 0 0 1 355.16 124.76Q324.2 314.25 373.34 499.85A192 192 0 0 1 370.75 500.52Q324.2 314.25 352.48 124.34ZM378.85 130.19A192 192 0 0 1 382.63 131.36Q324.2 314.25 377.1 498.82A192 192 0 0 1 373.34 499.85Q324.2 314.25 378.85 130.19ZM404.79 139.98A192 192 0 0 1 408.24 141.62Q324.2 314.25 380.71 497.75A192 192 0 0 1 377.1 498.82Q324.2 314.25 404.79 139.98ZM439.1 160.42A192 192 0 0 1 442.4 162.94Q324.2 314.25 384.61 496.5A192 192 0 0 1 380.71 497.75Q324.2 314.25 439.1 160.42Z" fill="#E31A1C"/>
<g fill="none" stroke="#E31A1C" stroke-opacity="0.5"><path d="M186 447.54Q324.2 314.25 346.34 504.97" stroke-width="0.007"/><path d="M178.95 439.82Q324.2 314.25 346.34 504.97" stroke-width="0.007"/><path d="M168.17 426.13Q324.2 314.25 346.35 504.97" stroke-width="0.007"/><path d="M160.46 414.51Q324.2 314.25 346.36 504.97" stroke-width="0.007"/><path d="M158.66 411.52Q324.2 314.25 346.36 504.97" stroke-width="0.007"/><path d="M156.92 408.5Q324.2 314.25 346.37 504.97" stroke-width="0.007"/><path d="M147.66 389.73Q324.2 314.25 346.38 504.96" stroke-width="0.007"/><path d="M140.49 370.05Q324.2 314.25 346.39 504.96" stroke-width="0.009"/><path d="M135.49 349.64Q324.2 314.25 346.4 504.96" stroke-width="0.013"/><path d="M134.88 346.19Q324.2 314.25 346.41 504.96" stroke-width="0.007"/><path d="M132.74 328.69Q324.2 314.25 346.43 504.96" stroke-width="0.009"/><path d="M132.51 325.16Q324.2 314.25 346.44 504.96" stroke-width="0.01"/><path d="M132.34 321.61Q324.2 314.25 346.45 504.96" stroke-width="0.007"/><path d="M132.24 318.05Q324.2 314.25 346.46 504.96" stroke-width="0.011"/><path d="M132.2 314.48Q324.2 314.25 346.47 504.95" stroke-width="0.013"/><path d="M132.23 310.89Q324.2 314.25 346.48 504.95" stroke-width="0.015"/><path d="M132.33 307.3Q324.2 314.25 346.5 504.95" stroke-width="0.026"/><path d="M132.49 303.7Q324.2 314.25 346.53 504.95" stroke-width="0.032"/><path d="M132.72 300.08Q324.2 314.25 346.57 504.94" stroke-width="0.038"/></g>
<path d="M134.36 285.51A192 192 0 0 1 134.37 285.47Q324.2 314.25 287.57 502.72A192 192 0 0 1 287.53 502.71Q324.2 314.25 134.36 285.51ZM135.71 277.7A192 192 0 0 1 135.72 277.65Q324.2 314.25 287.64 502.74A192 192 0 0 1 287.59 502.73Q324.2 314.25 135.71 277.7ZM136.51 273.79A192 192 0 0 1 136.52 273.73Q324.2 314.25 287.7 502.75A192 192 0 0 1 287.64 502.74Q324.2 314.25 136.51 273.79ZM137.49 269.49A192 192 0 0 1 137.5 269.44Q324.2 314.25 287.75 502.76A192 192 0 0 1 287.7 502.75Q324.2 314.25 137.49 269.49ZM138.54 265.31A192 192 0 0 1 138.55 265.26Q324.2 314.25 287.8 502.77A192 192 0 0 1 287.75 502.76Q324.2 314.25 138.54 265.31ZM139.79 260.79A192 192 0 0 1 139.81 260.74Q324.2 314.25 287.85 502.78A192 192 0 0 1 287.8 502.77Q324.2 314.25 139.79 260.79ZM141.17 256.25A192 192 0 0 1 141.2 256.17Q324.2 314.25 287.94 502.79A192 192 0 0 1 287.85 502.78Q324.2 314.25 141.17 256.25ZM142.79 251.37A192 192 0 0 1 142.81 251.31Q324.2 314.25 287.99 502.81A192 192 0 0 1 287.94 502.79Q324.2 314.25 142.79 251.37ZM144.32 247.12A192 192 0 0 1 144.34 247.07Q324.2 314.25 288.04 502.81A192 192 0 0 1 287.99 502.81Q324.2 314.25 144.32 247.12ZM146.19 242.3A192 192 0 0 1 146.21 242.24Q324.2 314.25 288.1 502.83A192 192 0 0 1 288.04 502.81Q324.2 314.25 146.19 242.3ZM148.1 237.74A192 192 0 0 1 148.13 237.67Q324.2 314.25 288.17 502.84A192 192 0 0 1 288.1 502.83Q324.2 314.25 148.1 237.74ZM150.13 233.24A192 192 0 0 1 150.16 233.17Q324.2 314.25 288.25 502.86A192 192 0 0 1 288.17 502.84Q324.2 314.25 150.13 233.24ZM152.54 228.25A192 192 0 0 1 152.56 228.2Q324.2 314.25 288.31 502.87A192 192 0 0 1 288.25 502.86Q324.2 314.25 152.54 228.25ZM154.86 223.75A192 192 0 0 1 154.92 223.66Q324.2 314.25 288.42 502.89A192 192 0 0 1 288.31 502.87Q324.2 314.25 154.86 223.75ZM157.64 218.75A192 192 0 0 1 157.69 218.65Q324.2 314.25 288.53 502.91A192 192 0 0 1 288.42 502.89Q324.2 314.25 157.64 218.75ZM160.43 214.03A192 192 0 0 1 160.51 213.9Q324.2 314.25 288.68 502.94A192 192 0 0 1 288.53 502.91Q324.2 314.25 160.43 214.03ZM163.44 209.28A192 192 0 0 1 163.53 209.13Q324.2 314.25 288.85 502.97A192 192 0 0 1 288.68 502.94Q324.2 314.25 163.44 209.28ZM166.83 204.25A192 192 0 0 1 166.94 204.1Q324.2 314.25 289.03 503A192 192 0 0 1 288.85 502.97Q324.2 314.25 166.83 204.25ZM170.11 199.71A192 192 0 0 1 170.27 199.5Q324.2 314.25 289.29 503.05A192 192 0 0 1 289.03 503Q324.2 314.25 170.11 199.71ZM174.43 194.11A192 192 0 0 1 174.56 193.95Q324.2 314.25 289.49 503.09A192 192 0 0 1 289.29 503.05Q324.2 314.25 174.43 194.11ZM178.76 188.9A192 192 0 0 1 178.99 188.64Q324.2 314.25 289.82 503.15A192 192 0 0 1 289.49 503.09Q324.2 314.25 178.76 188.9ZM183.85 183.24A192 192 0 0 1 184.1 182.97Q324.2 314.25 290.18 503.21A192 192 0 0 1 289.82 503.15Q324.2 314.25 183.85 183.24ZM189.37 177.56A192 192 0 0 1 189.6 177.33Q324.2 314.25 290.5 503.27A192 192 0 0 1 290.18 503.21Q324.2 314.25 189.37 177.56ZM195.63 171.65A192 192 0 0 1 195.81 171.5Q324.2 314.25 290.73 503.31A192 192 0 0 1 290.5 503.27Q324.2 314.25 195.63 171.65ZM201.58 166.5A192 192 0 0 1 201.86 166.28Q324.2 314.25 291.08 503.37A192 192 0 0 1 290.73 503.31Q324.2 314.25 201.58 166.5ZM208.72 160.86A192 192 0 0 1 208.93 160.7Q324.2 314.25 291.33 503.42A192 192 0 0 1 291.08 503.37Q324.2 314.25 208.72 160.86ZM215.46 156.01A192 192 0 0 1 215.7 155.84Q324.2 314.25 291.62 503.47A192 192 0 0 1 291.33 503.42Q324.2 314.25 215.46 156.01ZM222.9 151.15A192 192 0 0 1 223.3 150.9Q324.2 314.25 292.08 503.54A192 192 0 0 1 291.62 503.47Q324.2 314.25 222.9 151.15ZM231 146.39A192 192 0 0 1 231.48 146.12Q324.2 314.25 292.61 503.63A192 192 0 0 1 292.08 503.54Q324.2 314.25 231 146.39ZM242.19 140.65A192 192 0 0 1 242.69 140.41Q324.2 314.25 293.16 503.72A192 192 0 0 1 292.61 503.63Q324.2 314.25 242.19 140.65ZM253.05 135.92A192 192 0 0 1 253.67 135.68Q324.2 314.25 293.81 503.83A192 192 0 0 1 293.16 503.72Q324.2 314.25 253.05 135.92ZM264.62 131.73A192 192 0 0 1 265.09 131.58Q324.2 314.25 294.29 503.91A192 192 0 0 1 293.81 503.83Q324.2 314.25 264.62 131.73ZM278.63 127.74A192 192 0 0 1 279.15 127.61Q324.2 314.25 294.82 503.99A192 192 0 0 1 294.29 503.91Q324.2 314.25 278.63 127.74ZM293.54 124.71A192 192 0 0 1 294.07 124.63Q324.2 314.25 295.34 504.07A192 192 0 0 1 294.82 503.99Q324.2 314.25 293.54 124.71ZM309.7 122.8A192 192 0 0 1 310.47 122.74Q324.2 314.25 296.1 504.18A192 192 0 0 1 295.34 504.07Q324.2 314.25 309.7 122.8ZM330.56 122.36A192 192 0 0 1 331.83 122.4Q324.2 314.25 297.35 504.36A192 192 0 0 1 296.1 504.18Q324.2 314.25 330.56 122.36ZM350.85 124.11A192 192 0 0 1 352.48 124.34Q324.2 314.25 298.97 504.59A192 192 0 0 1 297.35 504.36Q324.2 314.25 350.85 124.11ZM377.02 129.66A192 192 0 0 1 378.85 130.19Q324.2 314.25 300.85 504.83A192 192 0 0 1 298.97 504.59Q324.2 314.25 377.02 129.66ZM403.08 139.2A192 192 0 0 1 404.79 139.98Q324.2 314.25 302.7 505.04A192 192 0 0 1 300.85 504.83Q324.2 314.25 403.08 139.2ZM436.34 158.4A192 192 0 0 1 439.1 160.42Q324.2 314.25 306.08 505.39A192 192 0 0 1 302.7 505.04Q324.2 314.25 436.34 158.4Z" fill="#1F78B4"/>
<g fill="none" stroke="#1F78B4" stroke-opacity="0.5"><path d="M166.16 423.28Q324.2 314.25 287.4 502.69" stroke-width="0.007"/><path d="M133.83 339.23Q324.2 314.25 287.41 502.69" stroke-width="0.009"/><path d="M132.23 310.9Q324.2 314.25 287.44 502.7" stroke-width="0.01"/><path d="M132.33 307.32Q324.2 314.25 287.45 502.7" stroke-width="0.009"/><path d="M132.49 303.72Q324.2 314.25 287.46 502.7" stroke-width="0.007"/><path d="M132.72 300.11Q324.2 314.25 287.47 502.7" stroke-width="0.014"/><path d="M133.03 296.47Q324.2 314.25 287.49 502.71" stroke-width="0.019"/><path d="M133.4 292.84Q324.2 314.25 287.5 502.71" stroke-width="0.017"/><path d="M133.84 289.17Q324.2 314.25 287.52 502.71" stroke-width="0.014"/><path d="M135.03 281.41Q324.2 314.25 287.58 502.73" stroke-width="0.028"/></g>
<path d="M132.2 314.53A192 192 0 0 1 132.2 314.49Q324.2 314.25 212.44 470.37A192 192 0 0 1 212.41 470.35Q324.2 314.25 132.2 314.53ZM132.23 310.96A192 192 0 0 1 132.23 310.91Q324.2 314.25 212.48 470.4A192 192 0 0 1 212.44 470.37Q324.2 314.25 132.23 310.96ZM132.32 307.38A192 192 0 0 1 132.32 307.33Q324.2 314.25 212.52 470.43A192 192 0 0 1 212.48 470.4Q324.2 314.25 132.32 307.38ZM132.49 303.79A192 192 0 0 1 132.49 303.72Q324.2 314.25 212.57 470.46A192 192 0 0 1 212.52 470.43Q324.2 314.25 132.49 303.79ZM132.72 300.19A192 192 0 0 1 132.72 300.12Q324.2 314.25 212.62 470.5A192 192 0 0 1 212.57 470.46Q324.2 314.25 132.72 300.19ZM133.02 296.58A192 192 0 0 1 133.02 296.48Q324.2 314.25 212.7 470.56A192 192 0 0 1 212.62 470.5Q324.2 314.25 133.02 296.58ZM133.38 292.96A192 192 0 0 1 133.4 292.85Q324.2 314.25 212.79 470.62A192 192 0 0 1 212.7 470.56Q324.2 314.25 133.38 292.96ZM133.83 289.32A192 192 0 0 1 133.84 289.18Q324.2 314.25 212.9 470.7A192 192 0 0 1 212.79 470.62Q324.2 314.25 133.83 289.32ZM134.33 285.7A192 192 0 0 1 134.36 285.51Q324.2 314.25 213.05 470.8A192 192 0 0 1 212.9 470.7Q324.2 314.25 134.33 285.7ZM135 281.59A192 192 0 0 1 135.03 281.43Q324.2 314.25 213.17 470.89A192 192 0 0 1 213.05 470.8Q324.2 314.25 135 281.59ZM135.67 277.91A192 192 0 0 1 135.71 277.7Q324.2 314.25 213.34 471.01A192 192 0 0 1 213.17 470.89Q324.2 314.25 135.67 277.91ZM136.45 274.09A192 192 0 0 1 136.51 273.79Q324.2 314.25 213.57 471.18A192 192 0 0 1 213.34 471.01Q324.2 314.25 136.45 274.09ZM137.4 269.85A192 192 0 0 1 137.49 269.49Q324.2 314.25 213.86 471.38A192 192 0 0 1 213.57 471.18Q324.2 314.25 137.4 269.85ZM138.44 265.69A192 192 0 0 1 138.54 265.31Q324.2 314.25 214.16 471.59A192 192 0 0 1 213.86 471.38Q324.2 314.25 138.44 265.69ZM139.67 261.23A192 192 0 0 1 139.79 260.79Q324.2 314.25 214.52 471.84A192 192 0 0 1 214.16 471.59Q324.2 314.25 139.67 261.23ZM141.05 256.64A192 192 0 0 1 141.17 256.25Q324.2 314.25 214.84 472.06A192 192 0 0 1 214.52 471.84Q324.2 314.25 141.05 256.64ZM142.64 251.8A192 192 0 0 1 142.79 251.37Q324.2 314.25 215.2 472.31A192 192 0 0 1 214.84 472.06Q324.2 314.25 142.64 251.8ZM144.17 247.51A192 192 0 0 1 144.32 247.12Q324.2 314.25 215.53 472.54A192 192 0 0 1 215.2 472.31Q324.2 314.25 144.17 247.51ZM146.03 242.7A192 192 0 0 1 146.19 242.3Q324.2 314.25 215.87 472.77A192 192 0 0 1 215.53 472.54Q324.2 314.25 146.03 242.7ZM147.91 238.18A192 192 0 0 1 148.1 237.74Q324.2 314.25 216.24 473.02A192 192 0 0 1 215.87 472.77Q324.2 314.25 147.91 238.18ZM149.93 233.65A192 192 0 0 1 150.13 233.24Q324.2 314.25 216.6 473.26A192 192 0 0 1 216.24 473.02Q324.2 314.25 149.93 233.65ZM152.27 228.79A192 192 0 0 1 152.54 228.25Q324.2 314.25 217.07 473.58A192 192 0 0 1 216.6 473.26Q324.2 314.25 152.27 228.79ZM154.6 224.24A192 192 0 0 1 154.86 223.75Q324.2 314.25 217.5 473.87A192 192 0 0 1 217.07 473.58Q324.2 314.25 154.6 224.24ZM157.31 219.31A192 192 0 0 1 157.64 218.75Q324.2 314.25 218.01 474.21A192 192 0 0 1 217.5 473.87Q324.2 314.25 157.31 219.31ZM160.07 214.63A192 192 0 0 1 160.43 214.03Q324.2 314.25 218.57 474.58A192 192 0 0 1 218.01 474.21Q324.2 314.25 160.07 214.63ZM162.93 210.06A192 192 0 0 1 163.44 209.28Q324.2 314.25 219.3 475.06A192 192 0 0 1 218.57 474.58Q324.2 314.25 162.93 210.06ZM166.31 205A192 192 0 0 1 166.83 204.25Q324.2 314.25 220.03 475.53A192 192 0 0 1 219.3 475.06Q324.2 314.25 166.31 205ZM169.52 200.5A192 192 0 0 1 170.11 199.71Q324.2 314.25 220.82 476.04A192 192 0 0 1 220.03 475.53Q324.2 314.25 169.52 200.5ZM173.67 195.07A192 192 0 0 1 174.43 194.11Q324.2 314.25 221.8 476.66A192 192 0 0 1 220.82 476.04Q324.2 314.25 173.67 195.07ZM177.81 190.02A192 192 0 0 1 178.76 188.9Q324.2 314.25 222.98 477.4A192 192 0 0 1 221.8 476.66Q324.2 314.25 177.81 190.02ZM182.89 184.27A192 192 0 0 1 183.85 183.24Q324.2 314.25 224.11 478.1A192 192 0 0 1 222.98 477.4Q324.2 314.25 182.89 184.27ZM188.32 178.6A192 192 0 0 1 189.37 177.56Q324.2 314.25 225.31 478.82A192 192 0 0 1 224.11 478.1Q324.2 314.25 188.32 178.6ZM194.24 172.92A192 192 0 0 1 195.63 171.65Q324.2 314.25 226.84 479.74A192 192 0 0 1 225.31 478.82Q324.2 314.25 194.24 172.92ZM200.48 167.43A192 192 0 0 1 201.58 166.5Q324.2 314.25 228.02 480.42A192 192 0 0 1 226.84 479.74Q324.2 314.25 200.48 167.43ZM207.32 161.93A192 192 0 0 1 208.72 160.86Q324.2 314.25 229.47 481.26A192 192 0 0 1 228.02 480.42Q324.2 314.25 207.32 161.93ZM214.6 156.61A192 192 0 0 1 215.46 156.01Q324.2 314.25 230.34 481.74A192 192 0 0 1 229.47 481.26Q324.2 314.25 214.6 156.61ZM222.03 151.69A192 192 0 0 1 222.9 151.15Q324.2 314.25 231.19 482.22A192 192 0 0 1 230.34 481.74Q324.2 314.25 222.03 151.69ZM229.95 146.98A192 192 0 0 1 231 146.39Q324.2 314.25 232.2 482.77A192 192 0 0 1 231.19 482.22Q324.2 314.25 229.95 146.98ZM240.03 141.68A192 192 0 0 1 242.19 140.65Q324.2 314.25 234.19 483.84A192 192 0 0 1 232.2 482.77Q324.2 314.25 240.03 141.68ZM251.34 136.61A192 192 0 0 1 253.05 135.92Q324.2 314.25 235.73 484.65A192 192 0 0 1 234.19 483.84Q324.2 314.25 251.34 136.61ZM262.96 132.28A192 192 0 0 1 264.62 131.73Q324.2 314.25 237.21 485.41A192 192 0 0 1 235.73 484.65Q324.2 314.25 262.96 132.28ZM276.13 128.37A192 192 0 0 1 278.63 127.74Q324.2 314.25 239.39 486.51A192 192 0 0 1 237.21 485.41Q324.2 314.25 276.13 128.37ZM290.03 125.31A192 192 0 0 1 293.54 124.71Q324.2 314.25 242.43 487.97A192 192 0 0 1 239.39 486.51Q324.2 314.25 290.03 125.31ZM306.13 123.1A192 192 0 0 1 309.7 122.8Q324.2 314.25 245.51 489.38A192 192 0 0 1 242.43 487.97Q324.2 314.25 306.13 123.1ZM324.87 122.25A192 192 0 0 1 330.56 122.36Q324.2 314.25 250.46 491.52A192 192 0 0 1 245.51 489.38Q324.2 314.25 324.87 122.25ZM347.73 123.7A192 192 0 0 1 350.85 124.11Q324.2 314.25 253.22 492.65A192 192 0 0 1 250.46 491.52Q324.2 314.25 347.73 123.7ZM372.18 128.34A192 192 0 0 1 377.02 129.66Q324.2 314.25 257.66 494.35A192 192 0 0 1 253.22 492.65Q324.2 314.25 372.18 128.34ZM398.11 137.05A192 192 0 0 1 403.08 139.2Q324.2 314.25 262.5 496.07A192 192 0 0 1 257.66 494.35Q324.2 314.25 398.11 137.05ZM426.8 151.96A192 192 0 0 1 436.34 158.4Q324.2 314.25 272.93 499.28A192 192 0 0 1 262.5 496.07Q324.2 314.25 426.8 151.96Z" fill="#6A3D9A"/>
<g fill="none" stroke="#6A3D9A" stroke-opacity="0.5"><path d="M188.45 450.03Q324.2 314.25 212.03 470.08" stroke-width="0.013"/><path d="M186.01 447.54Q324.2 314.25 212.04 470.08" stroke-width="0.007"/><path d="M183.61 445.01Q324.2 314.25 212.04 470.09" stroke-width="0.007"/><path d="M181.26 442.44Q324.2 314.25 212.05 470.09" stroke-width="0.007"/><path d="M178.96 439.82Q324.2 314.25 212.05 470.09" stroke-width="0.007"/><path d="M176.7 437.16Q324.2 314.25 212.06 470.1" stroke-width="0.013"/><path d="M174.49 434.47Q324.2 314.25 212.07 470.1" stroke-width="0.007"/><path d="M172.33 431.72Q324.2 314.25 212.08 470.11" stroke-width="0.013"/><path d="M170.23 428.95Q324.2 314.25 212.08 470.11" stroke-width="0.007"/><path d="M168.17 426.14Q324.2 314.25 212.09 470.12" stroke-width="0.007"/><path d="M166.16 423.28Q324.2 314.25 212.09 470.12" stroke-width="0.007"/><path d="M164.21 420.39Q324.2 314.25 212.1 470.13" stroke-width="0.013"/><path d="M162.31 417.47Q324.2 314.25 212.11 470.14" stroke-width="0.013"/><path d="M160.46 414.52Q324.2 314.25 212.12 470.14" stroke-width="0.007"/><path d="M158.67 411.53Q324.2 314.25 212.13 470.15" stroke-width="0.007"/><path d="M156.93 408.5Q324.2 314.25 212.13 470.15" stroke-width="0.007"/><path d="M155.24 405.45Q324.2 314.25 212.14 470.15" stroke-width="0.007"/><path d="M153.61 402.36Q324.2 314.25 212.14 470.16" stroke-width="0.014"/><path d="M152.04 399.25Q324.2 314.25 212.15 470.16" stroke-width="0.007"/><path d="M150.52 396.11Q324.2 314.25 212.16 470.17" stroke-width="0.007"/><path d="M149.06 392.93Q324.2 314.25 212.17 470.17" stroke-width="0.014"/><path d="M147.66 389.74Q324.2 314.25 212.17 470.18" stroke-width="0.007"/><path d="M146.32 386.52Q324.2 314.25 212.18 470.18" stroke-width="0.007"/><path d="M145.04 383.27Q324.2 314.25 212.19 470.19" stroke-width="0.007"/><path d="M143.81 380Q324.2 314.25 212.19 470.19" stroke-width="0.008"/><path d="M142.64 376.71Q324.2 314.25 212.2 470.2" stroke-width="0.008"/><path d="M141.54 373.39Q324.2 314.25 212.2 470.2" stroke-width="0.008"/><path d="M140.49 370.06Q324.2 314.25 212.21 470.21" stroke-width="0.008"/><path d="M139.5 366.7Q324.2 314.25 212.22 470.21" stroke-width="0.018"/><path d="M137.71 359.93Q324.2 314.25 212.24 470.23" stroke-width="0.02"/><path d="M136.91 356.52Q324.2 314.25 212.26 470.24" stroke-width="0.022"/><path d="M136.17 353.09Q324.2 314.25 212.27 470.25" stroke-width="0.012"/><path d="M135.49 349.65Q324.2 314.25 212.28 470.26" stroke-width="0.013"/><path d="M134.88 346.2Q324.2 314.25 212.29 470.26" stroke-width="0.007"/><path d="M134.32 342.72Q324.2 314.25 212.3 470.27" stroke-width="0.016"/><path d="M133.83 339.24Q324.2 314.25 212.31 470.28" stroke-width="0.009"/><path d="M133.41 335.74Q324.2 314.25 212.32 470.28" stroke-width="0.014"/><path d="M133.04 332.23Q324.2 314.25 212.33 470.29" stroke-width="0.017"/><path d="M132.75 328.71Q324.2 314.25 212.34 470.3" stroke-width="0.02"/><path d="M132.51 325.18Q324.2 314.25 212.36 470.31" stroke-width="0.019"/><path d="M132.34 321.63Q324.2 314.25 212.38 470.32" stroke-width="0.025"/><path d="M132.24 318.07Q324.2 314.25 212.4 470.34" stroke-width="0.033"/></g>
<path d="M504.55 248.4A192 192 0 0 1 504.56 248.42Q324.2 314.25 515.39 296.65A192 192 0 0 1 515.4 296.72Q324.2 314.25 504.55 248.4Z" fill="#A6CEE3"/>
<path d="M504.51 248.29A192 192 0 0 1 504.55 248.4Q324.2 314.25 516.17 317.5A192 192 0 0 1 516.17 317.63Q324.2 314.25 504.51 248.29Z" fill="#E31A1C"/>
<path d="M504.42 248.02A192 192 0 0 1 504.51 248.29Q324.2 314.25 516.07 321.35A192 192 0 0 1 516.06 321.66Q324.2 314.25 504.42 248.02Z" fill="#1F78B4"/>
<path d="M504.07 247.07A192 192 0 0 1 504.42 248.02Q324.2 314.25 515.72 327.81A192 192 0 0 1 515.64 328.88Q324.2 314.25 504.07 247.07Z" fill="#33A02C"/>
<path d="M503.71 246.13A192 192 0 0 1 504.07 247.07Q324.2 314.25 514.87 336.82A192 192 0 0 1 514.74 337.87Q324.2 314.25 503.71 246.13Z" fill="#FF7F00"/>
<path d="M503.42 245.38A192 192 0 0 1 503.71 246.13Q324.2 314.25 513.5 346.34A192 192 0 0 1 513.36 347.14Q324.2 314.25 503.42 245.38Z" fill="#33A02C"/>
<path d="M503 244.28A192 192 0 0 1 503.42 245.38Q324.2 314.25 511.13 358.09A192 192 0 0 1 510.84 359.29Q324.2 314.25 503 244.28Z" fill="#FF7F00"/>
<path d="M502.39 242.75A192 192 0 0 1 503 244.28Q324.2 314.25 507.51 371.35A192 192 0 0 1 507.02 372.9Q324.2 314.25 502.39 242.75Z" fill="#FB9A99"/>
<path d="M501.36 240.23A192 192 0 0 1 502.39 242.75Q324.2 314.25 501.2 388.65A192 192 0 0 1 500.23 390.91Q324.2 314.25 501.36 240.23Z" fill="#E31A1C"/>
<path d="M500.24 237.6A192 192 0 0 1 501.36 240.23Q324.2 314.25 491.23 408.94A192 192 0 0 1 489.8 411.41Q324.2 314.25 500.24 237.6Z" fill="#A6CEE3"/>
<path d="M499.01 234.83A192 192 0 0 1 500.24 237.6Q324.2 314.25 476.32 431.4A192 192 0 0 1 474.42 433.83Q324.2 314.25 499.01 234.83Z" fill="#B2DF8A"/>
<path d="M497.15 230.88A192 192 0 0 1 499.01 234.83Q324.2 314.25 456.73 453.18A192 192 0 0 1 453.58 456.12Q324.2 314.25 497.15 230.88Z" fill="#CAB2D6"/>
<path d="M493.97 224.57A192 192 0 0 1 497.15 230.88Q324.2 314.25 428.77 475.27A192 192 0 0 1 422.84 478.97Q324.2 314.25 493.97 224.57Z" fill="#A6CEE3"/>
<path d="M491.19 219.5A192 192 0 0 1 493.97 224.57Q324.2 314.25 389.99 494.63A192 192 0 0 1 384.61 496.5Q324.2 314.25 491.19 219.5Z" fill="#E31A1C"/>
<path d="M469.88 189.18A192 192 0 0 1 491.19 219.5Q324.2 314.25 342.94 505.33A192 192 0 0 1 306.08 505.39Q324.2 314.25 469.88 189.18Z" fill="#1F78B4"/>
<path d="M461.61 180.15A192 192 0 0 1 469.88 189.18Q324.2 314.25 284.18 502.03A192 192 0 0 1 272.93 499.28Q324.2 314.25 461.61 180.15Z" fill="#6A3D9A"/>
</g>
<g id="labels" clip-path="url(#cp)" opacity="0.999">
<text transform="translate(550.75 293.43) rotate(-5.25)" dominant-baseline="central">TRBJ1-5;TRBJ2-3</text>
<text transform="translate(551.09 297.59) rotate(-4.2)" dominant-baseline="central">TRBJ1-2;TRBJ2-2</text>
<text transform="translate(551.35 301.71) rotate(-3.16)" dominant-baseline="central">TRBJ1-5;TRBJ2-6</text>
<text transform="translate(551.55 305.87) rotate(-2.11)" dominant-baseline="central">TRBJ1-1;TRBJ2-7</text>
<text transform="translate(551.66 310) rotate(-1.07)" dominant-baseline="central">TRBJ2-5;TRBJ2-6</text>
<text transform="translate(551.7 314.17) rotate(-0.02)" dominant-baseline="central">TRBJ2-1;TRBJ2-4</text>
<text transform="translate(551.66 318.3) rotate(1.02)" dominant-baseline="central">TRBJ2-4;TRBJ2-5</text>
<text transform="translate(551.48 324.31) rotate(2.54)" dominant-baseline="central">TRBJ1-1;TRBJ1-2</text>
<text transform="translate(550.89 333.39) rotate(4.82)" dominant-baseline="central">TRBJ2-4</text>
<text transform="translate(549.7 344.34) rotate(7.6)" dominant-baseline="central">TRBJ2-6</text>
<text transform="translate(547.67 356.86) rotate(10.79)" dominant-baseline="central">TRBJ1-3</text>
<text transform="translate(544.28 371.88) rotate(14.67)" dominant-baseline="central">TRBJ1-6</text>
<text transform="translate(538.65 390.19) rotate(19.5)" dominant-baseline="central">TRBJ1-4</text>
<text transform="translate(529.41 412.46) rotate(25.58)" dominant-baseline="central">TRBJ1-5</text>
<text transform="translate(515.05 438.07) rotate(32.98)" dominant-baseline="central">TRBJ2-2</text>
<text transform="translate(494.85 464.7) rotate(41.4)" dominant-baseline="central">TRBJ1-2</text>
<text transform="translate(466.74 491.56) rotate(51.2)" dominant-baseline="central">TRBJ2-7</text>
<text transform="translate(427.43 516.98) rotate(63.02)" dominant-baseline="central">TRBJ1-1</text>
<text transform="translate(376.65 535.62) rotate(76.67)" dominant-baseline="central">TRBJ2-5</text>
<text transform="translate(313.38 541.49) rotate(92.72)" dominant-baseline="central">TRBJ2-3</text>
<text transform="translate(232.07 522.26) rotate(113.89)" dominant-baseline="central">TRBJ2-1</text>
<text transform="translate(516.76 193.1) rotate(-32.17)" dominant-baseline="central">TRBV27</text>
<text transform="translate(465.82 136.21) rotate(-51.5)" dominant-baseline="central">TRBV20-1</text>
<text transform="translate(427.09 111.35) rotate(-63.11)" dominant-baseline="central">TRBV28</text>
<text transform="translate(394.82 97.99) rotate(-71.91)" dominant-baseline="central">TRBV2</text>
<text transform="translate(364.6 90.37) rotate(-79.77)" dominant-baseline="central">TRBV9</text>
<text transform="translate(336.36 87.08) rotate(-86.94)" dominant-baseline="central">TRBV5-1</text>
<text transform="translate(312 87.08) rotate(-93.08)" dominant-baseline="central">TRBV6-1;TRBV6-5;TRBV6-6</text>
<text transform="translate(291.26 89.15) rotate(-98.33)" dominant-baseline="central">TRBV6-5;TRBV6-6</text>
<text transform="translate(273.49 92.47) rotate(-102.88)" dominant-baseline="central">TRBV12-3;TRBV12-4</text>
<text transform="translate(257.44 96.77) rotate(-107.06)" dominant-baseline="central">TRBV18</text>
<text transform="translate(242.91 101.77) rotate(-110.94)" dominant-baseline="central">TRBV25-1</text>
<text transform="translate(229.14 107.56) rotate(-114.7)" dominant-baseline="central">TRBV29-1</text>
<text transform="translate(216.69 113.75) rotate(-118.2)" dominant-baseline="central">TRBV15</text>
<text transform="translate(206.35 119.65) rotate(-121.2)" dominant-baseline="central">TRBV11-2</text>
<text transform="translate(197.16 125.52) rotate(-123.94)" dominant-baseline="central">TRBV3-2</text>
<text transform="translate(188.35 131.76) rotate(-126.66)" dominant-baseline="central">TRBV4-1</text>
<text transform="translate(180.14 138.18) rotate(-129.29)" dominant-baseline="central">TRBV19</text>
<text transform="translate(172.55 144.67) rotate(-131.81)" dominant-baseline="central">TRBV7-3</text>
<text transform="translate(165.37 151.37) rotate(-134.28)" dominant-baseline="central">TRBV6-1</text>
<text transform="translate(158.8 158.05) rotate(-136.64)" dominant-baseline="central">TRBV14</text>
<text transform="translate(152.58 164.91) rotate(-138.97)" dominant-baseline="central">TRBV7-8</text>
<text transform="translate(147.27 171.23) rotate(-141.05)" dominant-baseline="central">TRBV30</text>
<text transform="translate(142.28 177.64) rotate(-143.09)" dominant-baseline="central">TRBV13</text>
<text transform="translate(138.09 183.4) rotate(-144.89)" dominant-baseline="central">TRBV4-3</text>
<text transform="translate(133.92 189.55) rotate(-146.76)" dominant-baseline="central">TRBV4-2</text>
<text transform="translate(130.37 195.14) rotate(-148.43)" dominant-baseline="central">TRBV11-3</text>
<text transform="translate(127.04 200.74) rotate(-150.07)" dominant-baseline="central">TRBV7-2</text>
<text transform="translate(123.78 206.6) rotate(-151.76)" dominant-baseline="central">TRBV10-3</text>
<text transform="translate(120.92 212.1) rotate(-153.32)" dominant-baseline="central">TRBV12-5</text>
<text transform="translate(118.1 217.92) rotate(-154.95)" dominant-baseline="central">TRBV3-1;TRBV3-2</text>
<text transform="translate(115.65 223.35) rotate(-156.45)" dominant-baseline="central">TRBV6-4</text>
<text transform="translate(113.38 228.73) rotate(-157.92)" dominant-baseline="central">TRBV24-1;TRBV24/OR9-2</text>
<text transform="translate(111.16 234.43) rotate(-159.46)" dominant-baseline="central">TRBV10-1</text>
<text transform="translate(109.32 239.55) rotate(-160.83)" dominant-baseline="central">TRBV5-4;TRBV5-8</text>
<text transform="translate(107.42 245.23) rotate(-162.34)" dominant-baseline="central">TRBV5-6</text>
<text transform="translate(105.77 250.67) rotate(-163.77)" dominant-baseline="central">TRBV5-8</text>
<text transform="translate(104.29 255.98) rotate(-165.16)" dominant-baseline="central">TRBV5-5</text>
<text transform="translate(103 261.06) rotate(-166.48)" dominant-baseline="central">TRBV11-1</text>
<text transform="translate(101.85 266.13) rotate(-167.79)" dominant-baseline="central">TRBV7-9</text>
<text transform="translate(100.89 270.8) rotate(-168.99)" dominant-baseline="central">TRBV7-6</text>
<text transform="translate(100.07 275.25) rotate(-170.13)" dominant-baseline="central">TRBV3-1</text>
<text transform="translate(99.28 280.07) rotate(-171.36)" dominant-baseline="central">TRBV6-6</text>
<text transform="translate(98.66 284.48) rotate(-172.48)" dominant-baseline="central">TRBV10-2</text>
<text transform="translate(98.13 288.82) rotate(-173.58)" dominant-baseline="central">TRBV6-7</text>
<text transform="translate(97.68 293.14) rotate(-174.68)" dominant-baseline="central">TRBV6-8</text>
<text transform="translate(97.32 297.45) rotate(-175.76)" dominant-baseline="central">TRBV16</text>
<text transform="translate(97.04 301.74) rotate(-176.85)" dominant-baseline="central">TRBV7-7</text>
<text transform="translate(96.85 306.01) rotate(-177.92)" dominant-baseline="central">TRBV7-7;TRBV7-8</text>
<text transform="translate(96.73 310.27) rotate(-179)" dominant-baseline="central">TRBV6-5;TRBV6-8;TRBV6-9;TRBV6-1</text>
<text transform="translate(96.7 314.51) rotate(-180.07)" dominant-baseline="central">TRBV12-1</text>
<text transform="translate(96.74 318.75) rotate(-181.13)" dominant-baseline="central">TRBV7-1</text>
<text transform="translate(96.87 322.96) rotate(-182.2)" dominant-baseline="central">TRBV5-3</text>
<text transform="translate(97.07 327.17) rotate(-183.26)" dominant-baseline="central">TRBV7-3;TRBV7-4</text>
<text transform="translate(97.34 331.36) rotate(-184.31)" dominant-baseline="central">TRBV6-5;TRBV6-8;TRBV6-9</text>
<text transform="translate(97.7 335.53) rotate(-185.37)" dominant-baseline="central">TRBV6-2</text>
<text transform="translate(98.13 339.7) rotate(-186.42)" dominant-baseline="central">TRBV5-5;TRBV5-6</text>
<text transform="translate(98.63 343.84) rotate(-187.47)" dominant-baseline="central">TRBV24/OR9-2</text>
<text transform="translate(99.21 347.98) rotate(-188.53)" dominant-baseline="central">TRBV6-9</text>
<text transform="translate(99.87 352.09) rotate(-189.57)" dominant-baseline="central">TRBV6-2;TRBV6-5</text>
<text transform="translate(100.6 356.19) rotate(-190.62)" dominant-baseline="central">TRBV6-2;TRBV6-3</text>
<text transform="translate(101.4 360.27) rotate(-191.67)" dominant-baseline="central">TRBV5-7</text>
<text transform="translate(102.28 364.33) rotate(-192.72)" dominant-baseline="central">TRBV12-3;TRBV12-4;TRBV12-5</text>
<text transform="translate(103.23 368.37) rotate(-193.76)" dominant-baseline="central">TRBV27;TRBV28</text>
<text transform="translate(104.26 372.39) rotate(-194.81)" dominant-baseline="central">TRBV6-5;TRBV6-6</text>
<text transform="translate(105.35 376.39) rotate(-195.85)" dominant-baseline="central">TRBV10-1;TRBV10-2</text>
<text transform="translate(106.52 380.37) rotate(-196.9)" dominant-baseline="central">TRBV6-3</text>
<text transform="translate(107.76 384.32) rotate(-197.94)" dominant-baseline="central">TRBV6-2;TRBV6-3;TRBV6-5;TRBV6-6;TRBV6-1</text>
<text transform="translate(109.07 388.25) rotate(-198.98)" dominant-baseline="central">TRBV6-1;TRBV6-5;TRBV6-6;TRBV6-8;TRBV6-9</text>
<text transform="translate(110.45 392.15) rotate(-200.03)" dominant-baseline="central">TRBV21-1</text>
<text transform="translate(111.91 396.03) rotate(-201.07)" dominant-baseline="central">TRBV6-5;TRBV6-6;TRBV6-8;TRBV6-9</text>
<text transform="translate(113.43 399.88) rotate(-202.11)" dominant-baseline="central">TRBV7-3;TRBV7-4;TRBV7-6;TRBV7-8</text>
<text transform="translate(115.02 403.7) rotate(-203.15)" dominant-baseline="central">TRBV7-4;TRBV7-6;TRBV7-8;TRBV7-9</text>
<text transform="translate(116.68 407.48) rotate(-204.19)" dominant-baseline="central">TRBV9;TRBV6-5;TRBV6-6</text>
<text transform="translate(118.41 411.24) rotate(-205.23)" dominant-baseline="central">TRBV7-4;TRBV7-6</text>
<text transform="translate(120.21 414.96) rotate(-206.28)" dominant-baseline="central">TRBV23-1</text>
<text transform="translate(122.07 418.65) rotate(-207.32)" dominant-baseline="central">TRBV6-5;TRBV6-6;TRBV6-8</text>
<text transform="translate(124 422.31) rotate(-208.36)" dominant-baseline="central">TRBV12-2</text>
<text transform="translate(126 425.93) rotate(-209.4)" dominant-baseline="central">TRBV17</text>
<text transform="translate(128.06 429.51) rotate(-210.44)" dominant-baseline="central">TRBV5-2</text>
<text transform="translate(130.18 433.05) rotate(-211.48)" dominant-baseline="central">TRBV7-6;TRBV7-8;TRBV7-9</text>
<text transform="translate(132.37 436.56) rotate(-212.52)" dominant-baseline="central">TRBV6-5;TRBV6-6;TRBV6-8</text>
<text transform="translate(134.63 440.02) rotate(-213.56)" dominant-baseline="central">TRBV26</text>
<text transform="translate(136.94 443.44) rotate(-214.6)" dominant-baseline="central">TRBV6-5;TRBV6-8;TRBV6-9</text>
<text transform="translate(139.32 446.82) rotate(-215.64)" dominant-baseline="central">TRBV7-4</text>
<text transform="translate(141.76 450.16) rotate(-216.68)" dominant-baseline="central">TRBV8-1</text>
<text transform="translate(144.25 453.45) rotate(-217.72)" dominant-baseline="central">TRBV12-4</text>
<text transform="translate(146.81 456.69) rotate(-218.76)" dominant-baseline="central">TRBV8-2</text>
<text transform="translate(149.43 459.89) rotate(-219.8)" dominant-baseline="central">TRBV12-3</text>
<text transform="translate(152.1 463.04) rotate(-220.84)" dominant-baseline="central">TRBV22-1</text>
<text transform="translate(154.83 466.14) rotate(-221.88)" dominant-baseline="central">TRBV5-5;TRBV5-6;TRBV5-8</text>
<text transform="translate(157.61 469.19) rotate(-222.92)" dominant-baseline="central">TRBV5-4</text>
<text transform="translate(160.45 472.18) rotate(-223.96)" dominant-baseline="central">TRBV7-1;TRBV7-2</text>
<text transform="translate(163.35 475.13) rotate(-225)" dominant-baseline="central">TRBV7-5</text>
</g>
</svg></body></html>
